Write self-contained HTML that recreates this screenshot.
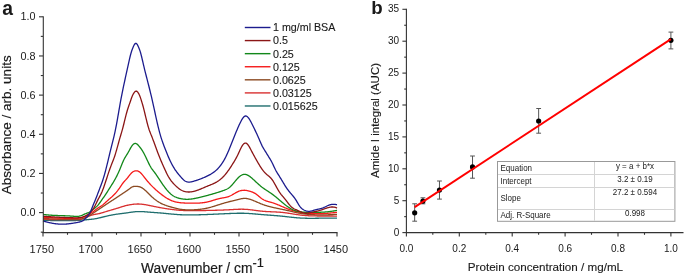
<!DOCTYPE html>
<html><head><meta charset="utf-8"><style>
html,body{margin:0;padding:0;background:#fff;}
svg{display:block;}
text{font-family:"Liberation Sans",sans-serif;fill:#1a1a1a;}
.hv{stroke:#1a1a1a;stroke-width:0.18px;}
.hv2{stroke:#1a1a1a;stroke-width:0.12px;}
</style></head><body>
<svg width="685" height="274" viewBox="0 0 685 274" style="will-change:transform">
<rect width="685" height="274" fill="#fff"/>
<!-- panel a -->
<text x="2.2" y="14.6" font-size="19.3" font-weight="bold" fill="#000">a</text>
<g fill="none" stroke-width="1.3" stroke-linejoin="round">
<path d="M43.0,220.50 L43.5,220.49 L44.0,220.49 L44.5,220.48 L45.0,220.48 L45.5,220.47 L46.0,220.47 L46.5,220.47 L47.0,220.47 L47.5,220.47 L48.0,220.47 L48.5,220.47 L49.0,220.47 L49.5,220.47 L50.0,220.47 L50.5,220.48 L51.0,220.48 L51.5,220.49 L52.0,220.49 L52.5,220.50 L53.0,220.50 L53.5,220.51 L54.0,220.52 L54.5,220.52 L55.0,220.53 L55.5,220.54 L56.0,220.54 L56.5,220.55 L57.0,220.56 L57.5,220.56 L58.0,220.57 L58.5,220.58 L59.0,220.59 L59.5,220.59 L60.0,220.60 L60.5,220.61 L61.0,220.61 L61.5,220.62 L62.0,220.62 L62.5,220.63 L63.0,220.63 L63.5,220.64 L64.0,220.64 L64.5,220.65 L65.0,220.65 L65.5,220.65 L66.0,220.65 L66.5,220.65 L67.0,220.65 L67.5,220.65 L68.0,220.65 L68.5,220.65 L69.0,220.64 L69.5,220.64 L70.0,220.64 L70.5,220.63 L71.0,220.62 L71.5,220.61 L72.0,220.60 L72.5,220.59 L73.0,220.58 L73.5,220.57 L74.0,220.55 L74.5,220.54 L75.0,220.52 L75.5,220.50 L76.0,220.48 L76.5,220.46 L77.0,220.44 L77.5,220.41 L78.0,220.39 L78.5,220.36 L79.0,220.33 L79.5,220.30 L80.0,220.27 L80.5,220.23 L81.0,220.20 L81.5,220.16 L82.0,220.12 L82.5,220.08 L83.0,220.04 L83.5,220.00 L84.0,219.96 L84.5,219.91 L85.0,219.87 L85.5,219.82 L86.0,219.78 L86.5,219.74 L87.0,219.69 L87.5,219.64 L88.0,219.60 L88.5,219.56 L89.0,219.51 L89.5,219.46 L90.0,219.42 L90.5,219.37 L91.0,219.32 L91.5,219.27 L92.0,219.21 L92.5,219.15 L93.0,219.09 L93.5,219.03 L94.0,218.96 L94.5,218.88 L95.0,218.80 L95.5,218.71 L96.0,218.62 L96.5,218.53 L97.0,218.43 L97.5,218.32 L98.0,218.21 L98.5,218.10 L99.0,217.98 L99.5,217.87 L100.0,217.75 L100.5,217.62 L101.0,217.50 L101.5,217.37 L102.0,217.25 L102.5,217.12 L103.0,217.00 L103.5,216.87 L104.0,216.75 L104.5,216.62 L105.0,216.50 L105.5,216.38 L106.0,216.26 L106.5,216.14 L107.0,216.03 L107.5,215.92 L108.0,215.81 L108.5,215.70 L109.0,215.59 L109.5,215.48 L110.0,215.38 L110.5,215.28 L111.0,215.18 L111.5,215.08 L112.0,214.99 L112.5,214.90 L113.0,214.81 L113.5,214.72 L114.0,214.63 L114.5,214.55 L115.0,214.46 L115.5,214.38 L116.0,214.31 L116.5,214.23 L117.0,214.16 L117.5,214.09 L118.0,214.02 L118.5,213.95 L119.0,213.88 L119.5,213.82 L120.0,213.76 L120.5,213.70 L121.0,213.63 L121.5,213.57 L122.0,213.51 L122.5,213.45 L123.0,213.39 L123.5,213.33 L124.0,213.27 L124.5,213.20 L125.0,213.14 L125.5,213.07 L126.0,213.00 L126.5,212.93 L127.0,212.86 L127.5,212.78 L128.0,212.71 L128.5,212.63 L129.0,212.55 L129.5,212.48 L130.0,212.40 L130.5,212.33 L131.0,212.25 L131.5,212.18 L132.0,212.11 L132.5,212.04 L133.0,211.98 L133.5,211.91 L134.0,211.86 L134.5,211.80 L135.0,211.75 L135.5,211.71 L136.0,211.66 L136.5,211.63 L137.0,211.60 L137.5,211.58 L138.0,211.56 L138.5,211.55 L139.0,211.54 L139.5,211.54 L140.0,211.54 L140.5,211.55 L141.0,211.56 L141.5,211.58 L142.0,211.60 L142.5,211.62 L143.0,211.65 L143.5,211.68 L144.0,211.71 L144.5,211.75 L145.0,211.78 L145.5,211.82 L146.0,211.86 L146.5,211.90 L147.0,211.94 L147.5,211.99 L148.0,212.03 L148.5,212.07 L149.0,212.12 L149.5,212.16 L150.0,212.20 L150.5,212.24 L151.0,212.28 L151.5,212.32 L152.0,212.36 L152.5,212.40 L153.0,212.43 L153.5,212.47 L154.0,212.51 L154.5,212.54 L155.0,212.58 L155.5,212.61 L156.0,212.65 L156.5,212.68 L157.0,212.72 L157.5,212.76 L158.0,212.79 L158.5,212.83 L159.0,212.87 L159.5,212.91 L160.0,212.94 L160.5,212.98 L161.0,213.02 L161.5,213.07 L162.0,213.11 L162.5,213.15 L163.0,213.20 L163.5,213.24 L164.0,213.29 L164.5,213.34 L165.0,213.38 L165.5,213.43 L166.0,213.48 L166.5,213.53 L167.0,213.58 L167.5,213.63 L168.0,213.68 L168.5,213.73 L169.0,213.78 L169.5,213.83 L170.0,213.88 L170.5,213.93 L171.0,213.98 L171.5,214.03 L172.0,214.08 L172.5,214.13 L173.0,214.17 L173.5,214.22 L174.0,214.26 L174.5,214.31 L175.0,214.35 L175.5,214.39 L176.0,214.43 L176.5,214.47 L177.0,214.51 L177.5,214.55 L178.0,214.58 L178.5,214.61 L179.0,214.64 L179.5,214.67 L180.0,214.70 L180.5,214.73 L181.0,214.75 L181.5,214.77 L182.0,214.79 L182.5,214.81 L183.0,214.82 L183.5,214.84 L184.0,214.85 L184.5,214.86 L185.0,214.87 L185.5,214.88 L186.0,214.88 L186.5,214.89 L187.0,214.89 L187.5,214.90 L188.0,214.90 L188.5,214.90 L189.0,214.90 L189.5,214.90 L190.0,214.90 L190.5,214.90 L191.0,214.90 L191.5,214.89 L192.0,214.89 L192.5,214.88 L193.0,214.88 L193.5,214.87 L194.0,214.86 L194.5,214.86 L195.0,214.85 L195.5,214.84 L196.0,214.83 L196.5,214.82 L197.0,214.81 L197.5,214.80 L198.0,214.79 L198.5,214.78 L199.0,214.77 L199.5,214.75 L200.0,214.74 L200.5,214.73 L201.0,214.71 L201.5,214.70 L202.0,214.68 L202.5,214.67 L203.0,214.65 L203.5,214.63 L204.0,214.62 L204.5,214.60 L205.0,214.58 L205.5,214.56 L206.0,214.55 L206.5,214.53 L207.0,214.51 L207.5,214.49 L208.0,214.47 L208.5,214.45 L209.0,214.43 L209.5,214.41 L210.0,214.39 L210.5,214.37 L211.0,214.35 L211.5,214.32 L212.0,214.30 L212.5,214.28 L213.0,214.26 L213.5,214.24 L214.0,214.22 L214.5,214.19 L215.0,214.17 L215.5,214.15 L216.0,214.13 L216.5,214.10 L217.0,214.08 L217.5,214.06 L218.0,214.03 L218.5,214.01 L219.0,213.99 L219.5,213.97 L220.0,213.94 L220.5,213.92 L221.0,213.90 L221.5,213.87 L222.0,213.85 L222.5,213.83 L223.0,213.81 L223.5,213.78 L224.0,213.76 L224.5,213.74 L225.0,213.71 L225.5,213.69 L226.0,213.67 L226.5,213.65 L227.0,213.63 L227.5,213.61 L228.0,213.58 L228.5,213.56 L229.0,213.54 L229.5,213.52 L230.0,213.50 L230.5,213.48 L231.0,213.46 L231.5,213.44 L232.0,213.42 L232.5,213.40 L233.0,213.38 L233.5,213.37 L234.0,213.35 L234.5,213.33 L235.0,213.32 L235.5,213.30 L236.0,213.29 L236.5,213.28 L237.0,213.27 L237.5,213.26 L238.0,213.25 L238.5,213.24 L239.0,213.24 L239.5,213.23 L240.0,213.23 L240.5,213.23 L241.0,213.23 L241.5,213.23 L242.0,213.24 L242.5,213.24 L243.0,213.25 L243.5,213.26 L244.0,213.27 L244.5,213.28 L245.0,213.30 L245.5,213.32 L246.0,213.34 L246.5,213.36 L247.0,213.39 L247.5,213.41 L248.0,213.44 L248.5,213.47 L249.0,213.50 L249.5,213.54 L250.0,213.57 L250.5,213.61 L251.0,213.64 L251.5,213.68 L252.0,213.72 L252.5,213.76 L253.0,213.80 L253.5,213.85 L254.0,213.89 L254.5,213.93 L255.0,213.98 L255.5,214.02 L256.0,214.07 L256.5,214.11 L257.0,214.16 L257.5,214.20 L258.0,214.25 L258.5,214.29 L259.0,214.34 L259.5,214.38 L260.0,214.43 L260.5,214.47 L261.0,214.51 L261.5,214.56 L262.0,214.60 L262.5,214.64 L263.0,214.68 L263.5,214.72 L264.0,214.76 L264.5,214.80 L265.0,214.84 L265.5,214.88 L266.0,214.91 L266.5,214.95 L267.0,214.99 L267.5,215.02 L268.0,215.06 L268.5,215.09 L269.0,215.13 L269.5,215.17 L270.0,215.20 L270.5,215.24 L271.0,215.27 L271.5,215.31 L272.0,215.35 L272.5,215.38 L273.0,215.42 L273.5,215.46 L274.0,215.49 L274.5,215.53 L275.0,215.57 L275.5,215.61 L276.0,215.65 L276.5,215.69 L277.0,215.73 L277.5,215.77 L278.0,215.82 L278.5,215.86 L279.0,215.91 L279.5,215.95 L280.0,216.00 L280.5,216.05 L281.0,216.10 L281.5,216.15 L282.0,216.20 L282.5,216.25 L283.0,216.30 L283.5,216.36 L284.0,216.41 L284.5,216.47 L285.0,216.52 L285.5,216.58 L286.0,216.63 L286.5,216.69 L287.0,216.75 L287.5,216.80 L288.0,216.86 L288.5,216.91 L289.0,216.97 L289.5,217.03 L290.0,217.08 L290.5,217.14 L291.0,217.19 L291.5,217.25 L292.0,217.30 L292.5,217.35 L293.0,217.40 L293.5,217.45 L294.0,217.50 L294.5,217.55 L295.0,217.60 L295.5,217.65 L296.0,217.69 L296.5,217.74 L297.0,217.78 L297.5,217.82 L298.0,217.86 L298.5,217.90 L299.0,217.93 L299.5,217.97 L300.0,218.00 L300.5,218.03 L301.0,218.06 L301.5,218.09 L302.0,218.11 L302.5,218.13 L303.0,218.15 L303.5,218.17 L304.0,218.19 L304.5,218.21 L305.0,218.22 L305.5,218.24 L306.0,218.25 L306.5,218.26 L307.0,218.27 L307.5,218.28 L308.0,218.28 L308.5,218.29 L309.0,218.29 L309.5,218.30 L310.0,218.30 L310.5,218.30 L311.0,218.30 L311.5,218.30 L312.0,218.30 L312.5,218.30 L313.0,218.29 L313.5,218.29 L314.0,218.29 L314.5,218.28 L315.0,218.28 L315.5,218.27 L316.0,218.26 L316.5,218.26 L317.0,218.25 L317.5,218.24 L318.0,218.23 L318.5,218.23 L319.0,218.22 L319.5,218.21 L320.0,218.20 L320.5,218.19 L321.0,218.18 L321.5,218.17 L322.0,218.17 L322.5,218.16 L323.0,218.15 L323.5,218.14 L324.0,218.14 L324.5,218.13 L325.0,218.12 L325.5,218.12 L326.0,218.11 L326.5,218.11 L327.0,218.10 L327.5,218.10 L328.0,218.09 L328.5,218.09 L329.0,218.09 L329.5,218.09 L330.0,218.09 L330.5,218.09 L331.0,218.09 L331.5,218.10 L332.0,218.10 L332.5,218.11 L333.0,218.11 L333.5,218.12 L334.0,218.13 L334.5,218.14 L335.0,218.15 L335.5,218.17 L336.0,218.18 L336.5,218.20 L337.0,218.21" stroke="#1f6e6e"/>
<path d="M43.0,219.20 L43.5,219.24 L44.0,219.27 L44.5,219.31 L45.0,219.34 L45.5,219.37 L46.0,219.40 L46.5,219.42 L47.0,219.45 L47.5,219.47 L48.0,219.49 L48.5,219.51 L49.0,219.52 L49.5,219.54 L50.0,219.55 L50.5,219.57 L51.0,219.58 L51.5,219.59 L52.0,219.59 L52.5,219.60 L53.0,219.61 L53.5,219.61 L54.0,219.62 L54.5,219.62 L55.0,219.62 L55.5,219.62 L56.0,219.62 L56.5,219.62 L57.0,219.62 L57.5,219.62 L58.0,219.62 L58.5,219.61 L59.0,219.61 L59.5,219.60 L60.0,219.60 L60.5,219.60 L61.0,219.59 L61.5,219.59 L62.0,219.58 L62.5,219.58 L63.0,219.57 L63.5,219.56 L64.0,219.56 L64.5,219.55 L65.0,219.55 L65.5,219.55 L66.0,219.54 L66.5,219.54 L67.0,219.54 L67.5,219.53 L68.0,219.53 L68.5,219.53 L69.0,219.53 L69.5,219.53 L70.0,219.53 L70.5,219.53 L71.0,219.54 L71.5,219.54 L72.0,219.54 L72.5,219.55 L73.0,219.56 L73.5,219.57 L74.0,219.58 L74.5,219.59 L75.0,219.60 L75.5,219.61 L76.0,219.63 L76.5,219.64 L77.0,219.64 L77.5,219.64 L78.0,219.64 L78.5,219.62 L79.0,219.59 L79.5,219.54 L80.0,219.48 L80.5,219.40 L81.0,219.30 L81.5,219.18 L82.0,219.04 L82.5,218.88 L83.0,218.70 L83.5,218.52 L84.0,218.32 L84.5,218.11 L85.0,217.89 L85.5,217.67 L86.0,217.45 L86.5,217.22 L87.0,217.00 L87.5,216.78 L88.0,216.57 L88.5,216.36 L89.0,216.15 L89.5,215.95 L90.0,215.76 L90.5,215.58 L91.0,215.40 L91.5,215.24 L92.0,215.08 L92.5,214.94 L93.0,214.80 L93.5,214.68 L94.0,214.56 L94.5,214.46 L95.0,214.36 L95.5,214.26 L96.0,214.17 L96.5,214.09 L97.0,214.00 L97.5,213.91 L98.0,213.81 L98.5,213.72 L99.0,213.61 L99.5,213.50 L100.0,213.38 L100.5,213.25 L101.0,213.11 L101.5,212.97 L102.0,212.82 L102.5,212.67 L103.0,212.52 L103.5,212.36 L104.0,212.21 L104.5,212.05 L105.0,211.90 L105.5,211.75 L106.0,211.60 L106.5,211.44 L107.0,211.29 L107.5,211.14 L108.0,210.99 L108.5,210.84 L109.0,210.70 L109.5,210.55 L110.0,210.40 L110.5,210.25 L111.0,210.11 L111.5,209.96 L112.0,209.82 L112.5,209.67 L113.0,209.52 L113.5,209.38 L114.0,209.23 L114.5,209.08 L115.0,208.93 L115.5,208.78 L116.0,208.63 L116.5,208.48 L117.0,208.32 L117.5,208.17 L118.0,208.01 L118.5,207.85 L119.0,207.69 L119.5,207.53 L120.0,207.37 L120.5,207.21 L121.0,207.05 L121.5,206.89 L122.0,206.74 L122.5,206.58 L123.0,206.43 L123.5,206.28 L124.0,206.14 L124.5,206.00 L125.0,205.86 L125.5,205.73 L126.0,205.60 L126.5,205.48 L127.0,205.36 L127.5,205.25 L128.0,205.14 L128.5,205.04 L129.0,204.94 L129.5,204.85 L130.0,204.76 L130.5,204.68 L131.0,204.60 L131.5,204.52 L132.0,204.45 L132.5,204.38 L133.0,204.32 L133.5,204.26 L134.0,204.21 L134.5,204.16 L135.0,204.12 L135.5,204.08 L136.0,204.05 L136.5,204.03 L137.0,204.01 L137.5,204.00 L138.0,204.00 L138.5,204.00 L139.0,204.01 L139.5,204.03 L140.0,204.06 L140.5,204.09 L141.0,204.13 L141.5,204.18 L142.0,204.23 L142.5,204.29 L143.0,204.35 L143.5,204.42 L144.0,204.49 L144.5,204.57 L145.0,204.65 L145.5,204.73 L146.0,204.82 L146.5,204.91 L147.0,205.00 L147.5,205.10 L148.0,205.20 L148.5,205.30 L149.0,205.40 L149.5,205.50 L150.0,205.60 L150.5,205.70 L151.0,205.80 L151.5,205.91 L152.0,206.01 L152.5,206.11 L153.0,206.22 L153.5,206.32 L154.0,206.42 L154.5,206.52 L155.0,206.63 L155.5,206.73 L156.0,206.83 L156.5,206.93 L157.0,207.03 L157.5,207.12 L158.0,207.22 L158.5,207.32 L159.0,207.41 L159.5,207.51 L160.0,207.60 L160.5,207.69 L161.0,207.78 L161.5,207.87 L162.0,207.96 L162.5,208.04 L163.0,208.13 L163.5,208.21 L164.0,208.29 L164.5,208.38 L165.0,208.46 L165.5,208.54 L166.0,208.61 L166.5,208.69 L167.0,208.77 L167.5,208.84 L168.0,208.91 L168.5,208.99 L169.0,209.06 L169.5,209.13 L170.0,209.20 L170.5,209.27 L171.0,209.34 L171.5,209.40 L172.0,209.47 L172.5,209.54 L173.0,209.60 L173.5,209.66 L174.0,209.72 L174.5,209.78 L175.0,209.84 L175.5,209.89 L176.0,209.95 L176.5,210.00 L177.0,210.05 L177.5,210.10 L178.0,210.14 L178.5,210.19 L179.0,210.23 L179.5,210.26 L180.0,210.30 L180.5,210.33 L181.0,210.36 L181.5,210.39 L182.0,210.42 L182.5,210.44 L183.0,210.46 L183.5,210.48 L184.0,210.50 L184.5,210.51 L185.0,210.53 L185.5,210.54 L186.0,210.55 L186.5,210.56 L187.0,210.57 L187.5,210.58 L188.0,210.58 L188.5,210.59 L189.0,210.59 L189.5,210.60 L190.0,210.60 L190.5,210.60 L191.0,210.60 L191.5,210.61 L192.0,210.61 L192.5,210.61 L193.0,210.61 L193.5,210.61 L194.0,210.61 L194.5,210.61 L195.0,210.60 L195.5,210.60 L196.0,210.60 L196.5,210.60 L197.0,210.59 L197.5,210.59 L198.0,210.59 L198.5,210.58 L199.0,210.58 L199.5,210.57 L200.0,210.57 L200.5,210.56 L201.0,210.56 L201.5,210.55 L202.0,210.54 L202.5,210.54 L203.0,210.53 L203.5,210.52 L204.0,210.51 L204.5,210.51 L205.0,210.50 L205.5,210.49 L206.0,210.48 L206.5,210.47 L207.0,210.46 L207.5,210.45 L208.0,210.44 L208.5,210.43 L209.0,210.42 L209.5,210.41 L210.0,210.40 L210.5,210.39 L211.0,210.38 L211.5,210.37 L212.0,210.36 L212.5,210.34 L213.0,210.33 L213.5,210.32 L214.0,210.31 L214.5,210.29 L215.0,210.28 L215.5,210.27 L216.0,210.25 L216.5,210.24 L217.0,210.23 L217.5,210.21 L218.0,210.20 L218.5,210.18 L219.0,210.17 L219.5,210.15 L220.0,210.13 L220.5,210.12 L221.0,210.10 L221.5,210.08 L222.0,210.06 L222.5,210.04 L223.0,210.03 L223.5,210.01 L224.0,209.99 L224.5,209.96 L225.0,209.94 L225.5,209.92 L226.0,209.90 L226.5,209.88 L227.0,209.85 L227.5,209.83 L228.0,209.80 L228.5,209.78 L229.0,209.75 L229.5,209.73 L230.0,209.70 L230.5,209.67 L231.0,209.64 L231.5,209.62 L232.0,209.59 L232.5,209.56 L233.0,209.53 L233.5,209.50 L234.0,209.47 L234.5,209.45 L235.0,209.42 L235.5,209.39 L236.0,209.37 L236.5,209.35 L237.0,209.32 L237.5,209.30 L238.0,209.29 L238.5,209.27 L239.0,209.26 L239.5,209.24 L240.0,209.23 L240.5,209.23 L241.0,209.22 L241.5,209.22 L242.0,209.22 L242.5,209.23 L243.0,209.23 L243.5,209.24 L244.0,209.26 L244.5,209.28 L245.0,209.30 L245.5,209.33 L246.0,209.36 L246.5,209.39 L247.0,209.43 L247.5,209.47 L248.0,209.51 L248.5,209.56 L249.0,209.61 L249.5,209.66 L250.0,209.72 L250.5,209.78 L251.0,209.83 L251.5,209.89 L252.0,209.96 L252.5,210.02 L253.0,210.08 L253.5,210.15 L254.0,210.22 L254.5,210.28 L255.0,210.35 L255.5,210.42 L256.0,210.48 L256.5,210.55 L257.0,210.61 L257.5,210.68 L258.0,210.74 L258.5,210.81 L259.0,210.87 L259.5,210.93 L260.0,210.99 L260.5,211.04 L261.0,211.10 L261.5,211.15 L262.0,211.20 L262.5,211.25 L263.0,211.29 L263.5,211.33 L264.0,211.37 L264.5,211.41 L265.0,211.45 L265.5,211.48 L266.0,211.51 L266.5,211.54 L267.0,211.57 L267.5,211.60 L268.0,211.62 L268.5,211.65 L269.0,211.67 L269.5,211.69 L270.0,211.71 L270.5,211.74 L271.0,211.76 L271.5,211.78 L272.0,211.80 L272.5,211.82 L273.0,211.84 L273.5,211.86 L274.0,211.88 L274.5,211.91 L275.0,211.93 L275.5,211.95 L276.0,211.98 L276.5,212.00 L277.0,212.03 L277.5,212.06 L278.0,212.09 L278.5,212.12 L279.0,212.15 L279.5,212.19 L280.0,212.23 L280.5,212.27 L281.0,212.31 L281.5,212.35 L282.0,212.40 L282.5,212.45 L283.0,212.50 L283.5,212.56 L284.0,212.61 L284.5,212.67 L285.0,212.74 L285.5,212.80 L286.0,212.87 L286.5,212.94 L287.0,213.01 L287.5,213.09 L288.0,213.16 L288.5,213.24 L289.0,213.32 L289.5,213.39 L290.0,213.47 L290.5,213.55 L291.0,213.63 L291.5,213.72 L292.0,213.80 L292.5,213.88 L293.0,213.96 L293.5,214.04 L294.0,214.12 L294.5,214.20 L295.0,214.28 L295.5,214.36 L296.0,214.44 L296.5,214.51 L297.0,214.59 L297.5,214.66 L298.0,214.73 L298.5,214.80 L299.0,214.87 L299.5,214.94 L300.0,215.00 L300.5,215.06 L301.0,215.12 L301.5,215.17 L302.0,215.23 L302.5,215.28 L303.0,215.33 L303.5,215.37 L304.0,215.42 L304.5,215.46 L305.0,215.50 L305.5,215.54 L306.0,215.58 L306.5,215.61 L307.0,215.64 L307.5,215.67 L308.0,215.70 L308.5,215.73 L309.0,215.75 L309.5,215.78 L310.0,215.80 L310.5,215.82 L311.0,215.84 L311.5,215.86 L312.0,215.88 L312.5,215.89 L313.0,215.91 L313.5,215.92 L314.0,215.93 L314.5,215.94 L315.0,215.95 L315.5,215.96 L316.0,215.97 L316.5,215.97 L317.0,215.98 L317.5,215.98 L318.0,215.99 L318.5,215.99 L319.0,216.00 L319.5,216.00 L320.0,216.00 L320.5,216.00 L321.0,216.00 L321.5,216.00 L322.0,216.00 L322.5,216.00 L323.0,216.00 L323.5,216.00 L324.0,216.00 L324.5,216.00 L325.0,216.00 L325.5,216.00 L326.0,216.00 L326.5,216.00 L327.0,216.00 L327.5,216.00 L328.0,216.00 L328.5,216.00 L329.0,216.00 L329.5,216.00 L330.0,216.00 L330.5,216.01 L331.0,216.01 L331.5,216.01 L332.0,216.02 L332.5,216.02 L333.0,216.03 L333.5,216.04 L334.0,216.04 L334.5,216.05 L335.0,216.06 L335.5,216.07 L336.0,216.08 L336.5,216.10 L337.0,216.11" stroke="#d83030"/>
<path d="M43.0,218.50 L43.5,218.53 L44.0,218.56 L44.5,218.58 L45.0,218.61 L45.5,218.63 L46.0,218.65 L46.5,218.68 L47.0,218.70 L47.5,218.72 L48.0,218.74 L48.5,218.75 L49.0,218.77 L49.5,218.79 L50.0,218.81 L50.5,218.82 L51.0,218.84 L51.5,218.85 L52.0,218.86 L52.5,218.88 L53.0,218.89 L53.5,218.90 L54.0,218.91 L54.5,218.92 L55.0,218.93 L55.5,218.94 L56.0,218.95 L56.5,218.96 L57.0,218.96 L57.5,218.97 L58.0,218.98 L58.5,218.98 L59.0,218.99 L59.5,218.99 L60.0,219.00 L60.5,219.00 L61.0,219.01 L61.5,219.01 L62.0,219.02 L62.5,219.02 L63.0,219.02 L63.5,219.03 L64.0,219.03 L64.5,219.03 L65.0,219.04 L65.5,219.04 L66.0,219.04 L66.5,219.05 L67.0,219.05 L67.5,219.05 L68.0,219.05 L68.5,219.06 L69.0,219.06 L69.5,219.06 L70.0,219.06 L70.5,219.07 L71.0,219.07 L71.5,219.07 L72.0,219.08 L72.5,219.08 L73.0,219.08 L73.5,219.09 L74.0,219.09 L74.5,219.10 L75.0,219.10 L75.5,219.10 L76.0,219.11 L76.5,219.11 L77.0,219.11 L77.5,219.11 L78.0,219.10 L78.5,219.08 L79.0,219.06 L79.5,219.03 L80.0,218.99 L80.5,218.94 L81.0,218.87 L81.5,218.80 L82.0,218.71 L82.5,218.61 L83.0,218.49 L83.5,218.35 L84.0,218.20 L84.5,218.03 L85.0,217.84 L85.5,217.63 L86.0,217.41 L86.5,217.17 L87.0,216.92 L87.5,216.66 L88.0,216.39 L88.5,216.10 L89.0,215.81 L89.5,215.51 L90.0,215.20 L90.5,214.89 L91.0,214.57 L91.5,214.24 L92.0,213.92 L92.5,213.58 L93.0,213.25 L93.5,212.91 L94.0,212.57 L94.5,212.23 L95.0,211.89 L95.5,211.55 L96.0,211.21 L96.5,210.87 L97.0,210.53 L97.5,210.20 L98.0,209.86 L98.5,209.53 L99.0,209.20 L99.5,208.87 L100.0,208.53 L100.5,208.21 L101.0,207.88 L101.5,207.55 L102.0,207.22 L102.5,206.89 L103.0,206.56 L103.5,206.23 L104.0,205.90 L104.5,205.57 L105.0,205.24 L105.5,204.90 L106.0,204.57 L106.5,204.23 L107.0,203.90 L107.5,203.57 L108.0,203.23 L108.5,202.90 L109.0,202.56 L109.5,202.23 L110.0,201.90 L110.5,201.57 L111.0,201.24 L111.5,200.91 L112.0,200.58 L112.5,200.25 L113.0,199.92 L113.5,199.59 L114.0,199.26 L114.5,198.93 L115.0,198.60 L115.5,198.27 L116.0,197.93 L116.5,197.60 L117.0,197.26 L117.5,196.93 L118.0,196.59 L118.5,196.26 L119.0,195.93 L119.5,195.59 L120.0,195.26 L120.5,194.93 L121.0,194.60 L121.5,194.27 L122.0,193.95 L122.5,193.62 L123.0,193.29 L123.5,192.97 L124.0,192.64 L124.5,192.31 L125.0,191.98 L125.5,191.64 L126.0,191.30 L126.5,190.96 L127.0,190.61 L127.5,190.25 L128.0,189.90 L128.5,189.53 L129.0,189.16 L129.5,188.78 L130.0,188.40 L130.5,188.01 L131.0,187.64 L131.5,187.29 L132.0,187.00 L132.5,186.77 L133.0,186.61 L133.5,186.49 L134.0,186.42 L134.5,186.39 L135.0,186.38 L135.5,186.39 L136.0,186.40 L136.5,186.41 L137.0,186.43 L137.5,186.46 L138.0,186.50 L138.5,186.56 L139.0,186.64 L139.5,186.75 L140.0,186.90 L140.5,187.08 L141.0,187.31 L141.5,187.56 L142.0,187.85 L142.5,188.17 L143.0,188.52 L143.5,188.89 L144.0,189.29 L144.5,189.70 L145.0,190.14 L145.5,190.59 L146.0,191.06 L146.5,191.54 L147.0,192.02 L147.5,192.52 L148.0,193.02 L148.5,193.52 L149.0,194.03 L149.5,194.53 L150.0,195.03 L150.5,195.52 L151.0,196.00 L151.5,196.47 L152.0,196.93 L152.5,197.38 L153.0,197.82 L153.5,198.25 L154.0,198.67 L154.5,199.07 L155.0,199.47 L155.5,199.85 L156.0,200.22 L156.5,200.59 L157.0,200.94 L157.5,201.27 L158.0,201.60 L158.5,201.92 L159.0,202.22 L159.5,202.52 L160.0,202.80 L160.5,203.07 L161.0,203.33 L161.5,203.58 L162.0,203.82 L162.5,204.05 L163.0,204.27 L163.5,204.49 L164.0,204.69 L164.5,204.89 L165.0,205.08 L165.5,205.26 L166.0,205.44 L166.5,205.62 L167.0,205.78 L167.5,205.95 L168.0,206.10 L168.5,206.26 L169.0,206.41 L169.5,206.56 L170.0,206.71 L170.5,206.86 L171.0,207.00 L171.5,207.14 L172.0,207.29 L172.5,207.43 L173.0,207.57 L173.5,207.71 L174.0,207.84 L174.5,207.98 L175.0,208.11 L175.5,208.23 L176.0,208.36 L176.5,208.48 L177.0,208.60 L177.5,208.71 L178.0,208.82 L178.5,208.92 L179.0,209.02 L179.5,209.11 L180.0,209.20 L180.5,209.28 L181.0,209.36 L181.5,209.43 L182.0,209.49 L182.5,209.55 L183.0,209.60 L183.5,209.65 L184.0,209.70 L184.5,209.74 L185.0,209.77 L185.5,209.80 L186.0,209.83 L186.5,209.85 L187.0,209.87 L187.5,209.88 L188.0,209.90 L188.5,209.90 L189.0,209.91 L189.5,209.91 L190.0,209.91 L190.5,209.90 L191.0,209.90 L191.5,209.89 L192.0,209.87 L192.5,209.86 L193.0,209.84 L193.5,209.82 L194.0,209.80 L194.5,209.77 L195.0,209.74 L195.5,209.71 L196.0,209.68 L196.5,209.64 L197.0,209.60 L197.5,209.56 L198.0,209.51 L198.5,209.46 L199.0,209.41 L199.5,209.36 L200.0,209.30 L200.5,209.24 L201.0,209.18 L201.5,209.11 L202.0,209.04 L202.5,208.96 L203.0,208.89 L203.5,208.81 L204.0,208.72 L204.5,208.63 L205.0,208.54 L205.5,208.45 L206.0,208.35 L206.5,208.25 L207.0,208.14 L207.5,208.03 L208.0,207.92 L208.5,207.80 L209.0,207.68 L209.5,207.55 L210.0,207.42 L210.5,207.28 L211.0,207.15 L211.5,207.00 L212.0,206.86 L212.5,206.71 L213.0,206.56 L213.5,206.41 L214.0,206.26 L214.5,206.10 L215.0,205.94 L215.5,205.78 L216.0,205.62 L216.5,205.46 L217.0,205.30 L217.5,205.14 L218.0,204.98 L218.5,204.82 L219.0,204.66 L219.5,204.51 L220.0,204.35 L220.5,204.19 L221.0,204.04 L221.5,203.88 L222.0,203.73 L222.5,203.58 L223.0,203.43 L223.5,203.28 L224.0,203.14 L224.5,202.99 L225.0,202.85 L225.5,202.70 L226.0,202.56 L226.5,202.42 L227.0,202.29 L227.5,202.15 L228.0,202.02 L228.5,201.89 L229.0,201.75 L229.5,201.63 L230.0,201.50 L230.5,201.38 L231.0,201.25 L231.5,201.13 L232.0,201.01 L232.5,200.89 L233.0,200.77 L233.5,200.65 L234.0,200.53 L234.5,200.41 L235.0,200.29 L235.5,200.17 L236.0,200.05 L236.5,199.93 L237.0,199.80 L237.5,199.67 L238.0,199.54 L238.5,199.41 L239.0,199.29 L239.5,199.16 L240.0,199.05 L240.5,198.93 L241.0,198.83 L241.5,198.73 L242.0,198.64 L242.5,198.56 L243.0,198.50 L243.5,198.45 L244.0,198.42 L244.5,198.40 L245.0,198.40 L245.5,198.42 L246.0,198.46 L246.5,198.51 L247.0,198.58 L247.5,198.67 L248.0,198.77 L248.5,198.89 L249.0,199.02 L249.5,199.16 L250.0,199.31 L250.5,199.47 L251.0,199.64 L251.5,199.82 L252.0,200.00 L252.5,200.19 L253.0,200.39 L253.5,200.59 L254.0,200.79 L254.5,201.00 L255.0,201.22 L255.5,201.43 L256.0,201.65 L256.5,201.87 L257.0,202.09 L257.5,202.31 L258.0,202.53 L258.5,202.74 L259.0,202.96 L259.5,203.18 L260.0,203.39 L260.5,203.60 L261.0,203.80 L261.5,204.00 L262.0,204.20 L262.5,204.39 L263.0,204.58 L263.5,204.76 L264.0,204.93 L264.5,205.10 L265.0,205.27 L265.5,205.43 L266.0,205.59 L266.5,205.74 L267.0,205.89 L267.5,206.03 L268.0,206.17 L268.5,206.31 L269.0,206.45 L269.5,206.58 L270.0,206.71 L270.5,206.84 L271.0,206.96 L271.5,207.08 L272.0,207.20 L272.5,207.32 L273.0,207.43 L273.5,207.55 L274.0,207.66 L274.5,207.77 L275.0,207.88 L275.5,207.99 L276.0,208.09 L276.5,208.20 L277.0,208.30 L277.5,208.41 L278.0,208.51 L278.5,208.62 L279.0,208.72 L279.5,208.82 L280.0,208.92 L280.5,209.02 L281.0,209.12 L281.5,209.23 L282.0,209.33 L282.5,209.43 L283.0,209.53 L283.5,209.64 L284.0,209.74 L284.5,209.85 L285.0,209.95 L285.5,210.06 L286.0,210.17 L286.5,210.28 L287.0,210.39 L287.5,210.50 L288.0,210.61 L288.5,210.73 L289.0,210.85 L289.5,210.96 L290.0,211.08 L290.5,211.20 L291.0,211.32 L291.5,211.44 L292.0,211.56 L292.5,211.68 L293.0,211.80 L293.5,211.92 L294.0,212.03 L294.5,212.15 L295.0,212.26 L295.5,212.38 L296.0,212.49 L296.5,212.60 L297.0,212.71 L297.5,212.81 L298.0,212.92 L298.5,213.02 L299.0,213.11 L299.5,213.21 L300.0,213.30 L300.5,213.39 L301.0,213.47 L301.5,213.55 L302.0,213.63 L302.5,213.70 L303.0,213.78 L303.5,213.84 L304.0,213.91 L304.5,213.97 L305.0,214.03 L305.5,214.09 L306.0,214.14 L306.5,214.20 L307.0,214.25 L307.5,214.29 L308.0,214.34 L308.5,214.38 L309.0,214.42 L309.5,214.46 L310.0,214.50 L310.5,214.54 L311.0,214.57 L311.5,214.60 L312.0,214.63 L312.5,214.66 L313.0,214.69 L313.5,214.71 L314.0,214.74 L314.5,214.76 L315.0,214.78 L315.5,214.80 L316.0,214.82 L316.5,214.83 L317.0,214.85 L317.5,214.86 L318.0,214.87 L318.5,214.88 L319.0,214.89 L319.5,214.89 L320.0,214.90 L320.5,214.90 L321.0,214.91 L321.5,214.91 L322.0,214.91 L322.5,214.90 L323.0,214.90 L323.5,214.89 L324.0,214.89 L324.5,214.88 L325.0,214.87 L325.5,214.86 L326.0,214.85 L326.5,214.83 L327.0,214.82 L327.5,214.80 L328.0,214.79 L328.5,214.77 L329.0,214.75 L329.5,214.73 L330.0,214.70 L330.5,214.68 L331.0,214.66 L331.5,214.63 L332.0,214.60 L332.5,214.58 L333.0,214.55 L333.5,214.51 L334.0,214.48 L334.5,214.45 L335.0,214.42 L335.5,214.38 L336.0,214.34 L336.5,214.31 L337.0,214.27" stroke="#8b4a22"/>
<path d="M43.0,217.60 L43.5,217.59 L44.0,217.59 L44.5,217.59 L45.0,217.59 L45.5,217.59 L46.0,217.59 L46.5,217.59 L47.0,217.60 L47.5,217.61 L48.0,217.62 L48.5,217.63 L49.0,217.64 L49.5,217.65 L50.0,217.67 L50.5,217.68 L51.0,217.70 L51.5,217.72 L52.0,217.73 L52.5,217.75 L53.0,217.77 L53.5,217.79 L54.0,217.82 L54.5,217.84 L55.0,217.86 L55.5,217.88 L56.0,217.91 L56.5,217.93 L57.0,217.96 L57.5,217.98 L58.0,218.00 L58.5,218.03 L59.0,218.05 L59.5,218.08 L60.0,218.10 L60.5,218.12 L61.0,218.15 L61.5,218.17 L62.0,218.19 L62.5,218.21 L63.0,218.24 L63.5,218.26 L64.0,218.28 L64.5,218.30 L65.0,218.32 L65.5,218.33 L66.0,218.35 L66.5,218.36 L67.0,218.38 L67.5,218.39 L68.0,218.40 L68.5,218.42 L69.0,218.42 L69.5,218.43 L70.0,218.44 L70.5,218.44 L71.0,218.45 L71.5,218.45 L72.0,218.45 L72.5,218.44 L73.0,218.44 L73.5,218.43 L74.0,218.42 L74.5,218.41 L75.0,218.40 L75.5,218.38 L76.0,218.37 L76.5,218.34 L77.0,218.31 L77.5,218.28 L78.0,218.24 L78.5,218.19 L79.0,218.12 L79.5,218.05 L80.0,217.97 L80.5,217.87 L81.0,217.76 L81.5,217.64 L82.0,217.50 L82.5,217.34 L83.0,217.17 L83.5,216.98 L84.0,216.78 L84.5,216.57 L85.0,216.34 L85.5,216.11 L86.0,215.86 L86.5,215.61 L87.0,215.34 L87.5,215.07 L88.0,214.80 L88.5,214.52 L89.0,214.24 L89.5,213.95 L90.0,213.65 L90.5,213.35 L91.0,213.04 L91.5,212.72 L92.0,212.40 L92.5,212.06 L93.0,211.72 L93.5,211.36 L94.0,211.00 L94.5,210.62 L95.0,210.24 L95.5,209.86 L96.0,209.47 L96.5,209.09 L97.0,208.71 L97.5,208.35 L98.0,208.00 L98.5,207.67 L99.0,207.35 L99.5,207.04 L100.0,206.74 L100.5,206.43 L101.0,206.11 L101.5,205.79 L102.0,205.44 L102.5,205.08 L103.0,204.69 L103.5,204.28 L104.0,203.86 L104.5,203.42 L105.0,202.97 L105.5,202.51 L106.0,202.05 L106.5,201.58 L107.0,201.12 L107.5,200.66 L108.0,200.20 L108.5,199.75 L109.0,199.31 L109.5,198.88 L110.0,198.44 L110.5,198.01 L111.0,197.57 L111.5,197.14 L112.0,196.69 L112.5,196.24 L113.0,195.77 L113.5,195.29 L114.0,194.80 L114.5,194.29 L115.0,193.76 L115.5,193.22 L116.0,192.65 L116.5,192.06 L117.0,191.45 L117.5,190.82 L118.0,190.16 L118.5,189.48 L119.0,188.77 L119.5,188.04 L120.0,187.30 L120.5,186.55 L121.0,185.81 L121.5,185.07 L122.0,184.35 L122.5,183.66 L123.0,183.00 L123.5,182.38 L124.0,181.79 L124.5,181.23 L125.0,180.68 L125.5,180.14 L126.0,179.60 L126.5,179.05 L127.0,178.48 L127.5,177.88 L128.0,177.25 L128.5,176.60 L129.0,175.94 L129.5,175.29 L130.0,174.66 L130.5,174.06 L131.0,173.50 L131.5,172.99 L132.0,172.54 L132.5,172.14 L133.0,171.80 L133.5,171.51 L134.0,171.26 L134.5,171.07 L135.0,170.93 L135.5,170.84 L136.0,170.80 L136.5,170.81 L137.0,170.87 L137.5,170.97 L138.0,171.13 L138.5,171.34 L139.0,171.60 L139.5,171.92 L140.0,172.30 L140.5,172.74 L141.0,173.22 L141.5,173.75 L142.0,174.32 L142.5,174.92 L143.0,175.54 L143.5,176.18 L144.0,176.83 L144.5,177.48 L145.0,178.13 L145.5,178.76 L146.0,179.39 L146.5,180.01 L147.0,180.61 L147.5,181.21 L148.0,181.79 L148.5,182.37 L149.0,182.93 L149.5,183.49 L150.0,184.03 L150.5,184.57 L151.0,185.10 L151.5,185.62 L152.0,186.13 L152.5,186.63 L153.0,187.12 L153.5,187.61 L154.0,188.09 L154.5,188.56 L155.0,189.02 L155.5,189.48 L156.0,189.93 L156.5,190.37 L157.0,190.80 L157.5,191.23 L158.0,191.66 L158.5,192.08 L159.0,192.49 L159.5,192.90 L160.0,193.30 L160.5,193.70 L161.0,194.09 L161.5,194.48 L162.0,194.86 L162.5,195.24 L163.0,195.61 L163.5,195.97 L164.0,196.33 L164.5,196.68 L165.0,197.02 L165.5,197.36 L166.0,197.68 L166.5,198.00 L167.0,198.31 L167.5,198.60 L168.0,198.89 L168.5,199.17 L169.0,199.44 L169.5,199.70 L170.0,199.94 L170.5,200.18 L171.0,200.40 L171.5,200.61 L172.0,200.81 L172.5,201.00 L173.0,201.17 L173.5,201.34 L174.0,201.49 L174.5,201.64 L175.0,201.77 L175.5,201.90 L176.0,202.02 L176.5,202.13 L177.0,202.23 L177.5,202.32 L178.0,202.41 L178.5,202.48 L179.0,202.56 L179.5,202.62 L180.0,202.68 L180.5,202.73 L181.0,202.78 L181.5,202.83 L182.0,202.87 L182.5,202.90 L183.0,202.93 L183.5,202.96 L184.0,202.98 L184.5,203.01 L185.0,203.03 L185.5,203.04 L186.0,203.06 L186.5,203.08 L187.0,203.09 L187.5,203.10 L188.0,203.12 L188.5,203.13 L189.0,203.14 L189.5,203.15 L190.0,203.16 L190.5,203.17 L191.0,203.18 L191.5,203.19 L192.0,203.20 L192.5,203.20 L193.0,203.20 L193.5,203.20 L194.0,203.20 L194.5,203.20 L195.0,203.20 L195.5,203.19 L196.0,203.18 L196.5,203.17 L197.0,203.15 L197.5,203.13 L198.0,203.11 L198.5,203.09 L199.0,203.06 L199.5,203.03 L200.0,202.99 L200.5,202.95 L201.0,202.91 L201.5,202.86 L202.0,202.81 L202.5,202.76 L203.0,202.70 L203.5,202.63 L204.0,202.56 L204.5,202.49 L205.0,202.41 L205.5,202.33 L206.0,202.24 L206.5,202.14 L207.0,202.04 L207.5,201.93 L208.0,201.82 L208.5,201.70 L209.0,201.58 L209.5,201.45 L210.0,201.31 L210.5,201.17 L211.0,201.02 L211.5,200.87 L212.0,200.72 L212.5,200.56 L213.0,200.40 L213.5,200.24 L214.0,200.08 L214.5,199.92 L215.0,199.77 L215.5,199.61 L216.0,199.46 L216.5,199.31 L217.0,199.17 L217.5,199.03 L218.0,198.89 L218.5,198.77 L219.0,198.65 L219.5,198.53 L220.0,198.43 L220.5,198.33 L221.0,198.24 L221.5,198.15 L222.0,198.06 L222.5,197.98 L223.0,197.89 L223.5,197.81 L224.0,197.72 L224.5,197.63 L225.0,197.53 L225.5,197.42 L226.0,197.31 L226.5,197.19 L227.0,197.06 L227.5,196.92 L228.0,196.77 L228.5,196.60 L229.0,196.42 L229.5,196.22 L230.0,196.00 L230.5,195.77 L231.0,195.51 L231.5,195.25 L232.0,194.97 L232.5,194.68 L233.0,194.39 L233.5,194.09 L234.0,193.79 L234.5,193.49 L235.0,193.19 L235.5,192.90 L236.0,192.61 L236.5,192.34 L237.0,192.07 L237.5,191.82 L238.0,191.59 L238.5,191.37 L239.0,191.18 L239.5,191.00 L240.0,190.85 L240.5,190.71 L241.0,190.59 L241.5,190.49 L242.0,190.41 L242.5,190.35 L243.0,190.30 L243.5,190.28 L244.0,190.27 L244.5,190.27 L245.0,190.30 L245.5,190.34 L246.0,190.40 L246.5,190.47 L247.0,190.56 L247.5,190.66 L248.0,190.77 L248.5,190.89 L249.0,191.02 L249.5,191.16 L250.0,191.30 L250.5,191.45 L251.0,191.61 L251.5,191.78 L252.0,191.96 L252.5,192.15 L253.0,192.35 L253.5,192.58 L254.0,192.82 L254.5,193.08 L255.0,193.36 L255.5,193.67 L256.0,194.00 L256.5,194.36 L257.0,194.74 L257.5,195.14 L258.0,195.55 L258.5,195.97 L259.0,196.40 L259.5,196.83 L260.0,197.25 L260.5,197.66 L261.0,198.06 L261.5,198.44 L262.0,198.80 L262.5,199.13 L263.0,199.44 L263.5,199.72 L264.0,199.99 L264.5,200.23 L265.0,200.45 L265.5,200.66 L266.0,200.85 L266.5,201.03 L267.0,201.19 L267.5,201.35 L268.0,201.50 L268.5,201.64 L269.0,201.78 L269.5,201.91 L270.0,202.05 L270.5,202.18 L271.0,202.32 L271.5,202.45 L272.0,202.60 L272.5,202.75 L273.0,202.91 L273.5,203.08 L274.0,203.25 L274.5,203.43 L275.0,203.61 L275.5,203.80 L276.0,203.99 L276.5,204.19 L277.0,204.39 L277.5,204.59 L278.0,204.80 L278.5,205.01 L279.0,205.22 L279.5,205.43 L280.0,205.65 L280.5,205.86 L281.0,206.08 L281.5,206.30 L282.0,206.51 L282.5,206.73 L283.0,206.95 L283.5,207.16 L284.0,207.37 L284.5,207.58 L285.0,207.79 L285.5,208.00 L286.0,208.20 L286.5,208.40 L287.0,208.59 L287.5,208.78 L288.0,208.97 L288.5,209.16 L289.0,209.34 L289.5,209.51 L290.0,209.68 L290.5,209.85 L291.0,210.02 L291.5,210.18 L292.0,210.34 L292.5,210.49 L293.0,210.64 L293.5,210.78 L294.0,210.92 L294.5,211.06 L295.0,211.19 L295.5,211.32 L296.0,211.45 L296.5,211.57 L297.0,211.69 L297.5,211.80 L298.0,211.91 L298.5,212.01 L299.0,212.11 L299.5,212.21 L300.0,212.30 L300.5,212.39 L301.0,212.47 L301.5,212.55 L302.0,212.63 L302.5,212.70 L303.0,212.77 L303.5,212.83 L304.0,212.89 L304.5,212.95 L305.0,213.00 L305.5,213.05 L306.0,213.10 L306.5,213.15 L307.0,213.19 L307.5,213.23 L308.0,213.27 L308.5,213.31 L309.0,213.34 L309.5,213.37 L310.0,213.40 L310.5,213.43 L311.0,213.45 L311.5,213.48 L312.0,213.50 L312.5,213.52 L313.0,213.54 L313.5,213.55 L314.0,213.57 L314.5,213.58 L315.0,213.59 L315.5,213.60 L316.0,213.61 L316.5,213.61 L317.0,213.62 L317.5,213.62 L318.0,213.62 L318.5,213.62 L319.0,213.61 L319.5,213.61 L320.0,213.60 L320.5,213.59 L321.0,213.58 L321.5,213.57 L322.0,213.55 L322.5,213.53 L323.0,213.52 L323.5,213.50 L324.0,213.47 L324.5,213.45 L325.0,213.42 L325.5,213.40 L326.0,213.37 L326.5,213.33 L327.0,213.30 L327.5,213.27 L328.0,213.23 L328.5,213.19 L329.0,213.15 L329.5,213.11 L330.0,213.06 L330.5,213.01 L331.0,212.97 L331.5,212.92 L332.0,212.86 L332.5,212.81 L333.0,212.76 L333.5,212.70 L334.0,212.64 L334.5,212.58 L335.0,212.51 L335.5,212.45 L336.0,212.38 L336.5,212.31 L337.0,212.24" stroke="#f51a1a"/>
<path d="M43.0,214.40 L43.5,214.47 L44.0,214.53 L44.5,214.60 L45.0,214.66 L45.5,214.71 L46.0,214.77 L46.5,214.82 L47.0,214.87 L47.5,214.92 L48.0,214.96 L48.5,215.01 L49.0,215.05 L49.5,215.09 L50.0,215.12 L50.5,215.16 L51.0,215.19 L51.5,215.23 L52.0,215.26 L52.5,215.29 L53.0,215.31 L53.5,215.34 L54.0,215.37 L54.5,215.39 L55.0,215.41 L55.5,215.43 L56.0,215.46 L56.5,215.48 L57.0,215.49 L57.5,215.51 L58.0,215.53 L58.5,215.55 L59.0,215.57 L59.5,215.58 L60.0,215.60 L60.5,215.62 L61.0,215.63 L61.5,215.65 L62.0,215.67 L62.5,215.68 L63.0,215.70 L63.5,215.72 L64.0,215.73 L64.5,215.75 L65.0,215.77 L65.5,215.79 L66.0,215.81 L66.5,215.83 L67.0,215.85 L67.5,215.87 L68.0,215.89 L68.5,215.92 L69.0,215.94 L69.5,215.97 L70.0,216.00 L70.5,216.03 L71.0,216.06 L71.5,216.09 L72.0,216.13 L72.5,216.16 L73.0,216.20 L73.5,216.24 L74.0,216.28 L74.5,216.32 L75.0,216.35 L75.5,216.38 L76.0,216.39 L76.5,216.40 L77.0,216.40 L77.5,216.38 L78.0,216.34 L78.5,216.29 L79.0,216.22 L79.5,216.12 L80.0,216.00 L80.5,215.85 L81.0,215.68 L81.5,215.50 L82.0,215.29 L82.5,215.08 L83.0,214.85 L83.5,214.63 L84.0,214.40 L84.5,214.18 L85.0,213.96 L85.5,213.74 L86.0,213.54 L86.5,213.34 L87.0,213.15 L87.5,212.96 L88.0,212.77 L88.5,212.55 L89.0,212.31 L89.5,212.02 L90.0,211.70 L90.5,211.34 L91.0,210.96 L91.5,210.56 L92.0,210.16 L92.5,209.76 L93.0,209.37 L93.5,208.99 L94.0,208.62 L94.5,208.25 L95.0,207.87 L95.5,207.48 L96.0,207.06 L96.5,206.63 L97.0,206.16 L97.5,205.65 L98.0,205.10 L98.5,204.50 L99.0,203.86 L99.5,203.19 L100.0,202.50 L100.5,201.80 L101.0,201.09 L101.5,200.39 L102.0,199.67 L102.5,198.96 L103.0,198.24 L103.5,197.52 L104.0,196.79 L104.5,196.06 L105.0,195.32 L105.5,194.58 L106.0,193.83 L106.5,193.07 L107.0,192.31 L107.5,191.54 L108.0,190.76 L108.5,189.97 L109.0,189.18 L109.5,188.39 L110.0,187.59 L110.5,186.80 L111.0,186.00 L111.5,185.21 L112.0,184.41 L112.5,183.61 L113.0,182.80 L113.5,181.98 L114.0,181.14 L114.5,180.29 L115.0,179.41 L115.5,178.50 L116.0,177.56 L116.5,176.60 L117.0,175.60 L117.5,174.57 L118.0,173.51 L118.5,172.42 L119.0,171.30 L119.5,170.15 L120.0,168.97 L120.5,167.76 L121.0,166.52 L121.5,165.27 L122.0,164.03 L122.5,162.82 L123.0,161.64 L123.5,160.53 L124.0,159.50 L124.5,158.54 L125.0,157.65 L125.5,156.81 L126.0,156.00 L126.5,155.21 L127.0,154.42 L127.5,153.61 L128.0,152.77 L128.5,151.89 L129.0,150.97 L129.5,150.03 L130.0,149.09 L130.5,148.18 L131.0,147.31 L131.5,146.50 L132.0,145.77 L132.5,145.12 L133.0,144.57 L133.5,144.11 L134.0,143.77 L134.5,143.53 L135.0,143.41 L135.5,143.41 L136.0,143.54 L136.5,143.78 L137.0,144.11 L137.5,144.53 L138.0,145.02 L138.5,145.56 L139.0,146.14 L139.5,146.74 L140.0,147.37 L140.5,148.02 L141.0,148.69 L141.5,149.39 L142.0,150.13 L142.5,150.91 L143.0,151.73 L143.5,152.60 L144.0,153.52 L144.5,154.48 L145.0,155.48 L145.5,156.51 L146.0,157.55 L146.5,158.62 L147.0,159.69 L147.5,160.75 L148.0,161.81 L148.5,162.85 L149.0,163.87 L149.5,164.85 L150.0,165.80 L150.5,166.69 L151.0,167.53 L151.5,168.31 L152.0,169.04 L152.5,169.74 L153.0,170.41 L153.5,171.06 L154.0,171.70 L154.5,172.34 L155.0,173.00 L155.5,173.67 L156.0,174.37 L156.5,175.08 L157.0,175.80 L157.5,176.54 L158.0,177.29 L158.5,178.04 L159.0,178.80 L159.5,179.56 L160.0,180.33 L160.5,181.09 L161.0,181.85 L161.5,182.60 L162.0,183.35 L162.5,184.08 L163.0,184.81 L163.5,185.52 L164.0,186.22 L164.5,186.91 L165.0,187.58 L165.5,188.24 L166.0,188.88 L166.5,189.50 L167.0,190.11 L167.5,190.69 L168.0,191.26 L168.5,191.81 L169.0,192.33 L169.5,192.83 L170.0,193.31 L170.5,193.77 L171.0,194.20 L171.5,194.60 L172.0,194.99 L172.5,195.34 L173.0,195.67 L173.5,195.99 L174.0,196.28 L174.5,196.55 L175.0,196.80 L175.5,197.03 L176.0,197.25 L176.5,197.45 L177.0,197.64 L177.5,197.81 L178.0,197.97 L178.5,198.12 L179.0,198.26 L179.5,198.38 L180.0,198.50 L180.5,198.61 L181.0,198.71 L181.5,198.81 L182.0,198.89 L182.5,198.97 L183.0,199.04 L183.5,199.10 L184.0,199.16 L184.5,199.20 L185.0,199.24 L185.5,199.27 L186.0,199.29 L186.5,199.30 L187.0,199.30 L187.5,199.30 L188.0,199.29 L188.5,199.26 L189.0,199.24 L189.5,199.20 L190.0,199.16 L190.5,199.11 L191.0,199.05 L191.5,198.99 L192.0,198.92 L192.5,198.85 L193.0,198.77 L193.5,198.68 L194.0,198.60 L194.5,198.51 L195.0,198.41 L195.5,198.31 L196.0,198.21 L196.5,198.11 L197.0,198.00 L197.5,197.89 L198.0,197.78 L198.5,197.67 L199.0,197.56 L199.5,197.44 L200.0,197.32 L200.5,197.20 L201.0,197.08 L201.5,196.96 L202.0,196.84 L202.5,196.71 L203.0,196.59 L203.5,196.46 L204.0,196.33 L204.5,196.20 L205.0,196.07 L205.5,195.93 L206.0,195.80 L206.5,195.67 L207.0,195.53 L207.5,195.40 L208.0,195.26 L208.5,195.12 L209.0,194.98 L209.5,194.84 L210.0,194.70 L210.5,194.56 L211.0,194.42 L211.5,194.28 L212.0,194.14 L212.5,194.00 L213.0,193.85 L213.5,193.71 L214.0,193.56 L214.5,193.41 L215.0,193.26 L215.5,193.11 L216.0,192.96 L216.5,192.81 L217.0,192.66 L217.5,192.50 L218.0,192.34 L218.5,192.18 L219.0,192.02 L219.5,191.86 L220.0,191.70 L220.5,191.53 L221.0,191.37 L221.5,191.20 L222.0,191.03 L222.5,190.85 L223.0,190.68 L223.5,190.50 L224.0,190.32 L224.5,190.14 L225.0,189.94 L225.5,189.74 L226.0,189.52 L226.5,189.29 L227.0,189.04 L227.5,188.77 L228.0,188.48 L228.5,188.15 L229.0,187.80 L229.5,187.42 L230.0,187.00 L230.5,186.55 L231.0,186.06 L231.5,185.54 L232.0,185.00 L232.5,184.43 L233.0,183.85 L233.5,183.26 L234.0,182.65 L234.5,182.05 L235.0,181.44 L235.5,180.83 L236.0,180.24 L236.5,179.65 L237.0,179.08 L237.5,178.53 L238.0,178.00 L238.5,177.50 L239.0,177.04 L239.5,176.60 L240.0,176.20 L240.5,175.83 L241.0,175.50 L241.5,175.21 L242.0,174.96 L242.5,174.74 L243.0,174.58 L243.5,174.45 L244.0,174.37 L244.5,174.34 L245.0,174.36 L245.5,174.41 L246.0,174.51 L246.5,174.65 L247.0,174.83 L247.5,175.05 L248.0,175.30 L248.5,175.59 L249.0,175.91 L249.5,176.26 L250.0,176.63 L250.5,177.03 L251.0,177.44 L251.5,177.86 L252.0,178.30 L252.5,178.74 L253.0,179.19 L253.5,179.64 L254.0,180.10 L254.5,180.56 L255.0,181.02 L255.5,181.48 L256.0,181.95 L256.5,182.41 L257.0,182.87 L257.5,183.33 L258.0,183.78 L258.5,184.23 L259.0,184.67 L259.5,185.11 L260.0,185.54 L260.5,185.97 L261.0,186.38 L261.5,186.78 L262.0,187.18 L262.5,187.56 L263.0,187.93 L263.5,188.29 L264.0,188.65 L264.5,189.00 L265.0,189.34 L265.5,189.67 L266.0,190.00 L266.5,190.33 L267.0,190.66 L267.5,190.98 L268.0,191.30 L268.5,191.63 L269.0,191.95 L269.5,192.28 L270.0,192.61 L270.5,192.95 L271.0,193.29 L271.5,193.64 L272.0,194.00 L272.5,194.37 L273.0,194.74 L273.5,195.12 L274.0,195.51 L274.5,195.90 L275.0,196.30 L275.5,196.71 L276.0,197.12 L276.5,197.53 L277.0,197.95 L277.5,198.37 L278.0,198.79 L278.5,199.22 L279.0,199.64 L279.5,200.07 L280.0,200.49 L280.5,200.92 L281.0,201.35 L281.5,201.77 L282.0,202.19 L282.5,202.61 L283.0,203.03 L283.5,203.44 L284.0,203.84 L284.5,204.25 L285.0,204.64 L285.5,205.03 L286.0,205.42 L286.5,205.79 L287.0,206.16 L287.5,206.52 L288.0,206.87 L288.5,207.22 L289.0,207.55 L289.5,207.87 L290.0,208.18 L290.5,208.48 L291.0,208.77 L291.5,209.04 L292.0,209.30 L292.5,209.55 L293.0,209.78 L293.5,210.00 L294.0,210.21 L294.5,210.40 L295.0,210.58 L295.5,210.75 L296.0,210.91 L296.5,211.05 L297.0,211.19 L297.5,211.31 L298.0,211.43 L298.5,211.53 L299.0,211.63 L299.5,211.72 L300.0,211.80 L300.5,211.87 L301.0,211.94 L301.5,212.00 L302.0,212.05 L302.5,212.09 L303.0,212.14 L303.5,212.17 L304.0,212.20 L304.5,212.23 L305.0,212.26 L305.5,212.28 L306.0,212.30 L306.5,212.32 L307.0,212.33 L307.5,212.35 L308.0,212.36 L308.5,212.37 L309.0,212.38 L309.5,212.39 L310.0,212.40 L310.5,212.41 L311.0,212.41 L311.5,212.41 L312.0,212.42 L312.5,212.42 L313.0,212.41 L313.5,212.41 L314.0,212.41 L314.5,212.41 L315.0,212.40 L315.5,212.39 L316.0,212.39 L316.5,212.38 L317.0,212.37 L317.5,212.36 L318.0,212.34 L318.5,212.33 L319.0,212.32 L319.5,212.30 L320.0,212.28 L320.5,212.26 L321.0,212.24 L321.5,212.22 L322.0,212.19 L322.5,212.16 L323.0,212.14 L323.5,212.10 L324.0,212.07 L324.5,212.04 L325.0,212.00 L325.5,211.96 L326.0,211.92 L326.5,211.88 L327.0,211.83 L327.5,211.78 L328.0,211.73 L328.5,211.68 L329.0,211.62 L329.5,211.56 L330.0,211.50 L330.5,211.43 L331.0,211.37 L331.5,211.30 L332.0,211.22 L332.5,211.15 L333.0,211.07 L333.5,210.99 L334.0,210.90 L334.5,210.81 L335.0,210.72 L335.5,210.62 L336.0,210.52 L336.5,210.42 L337.0,210.31" stroke="#12881a"/>
<path d="M43.0,216.30 L43.5,216.33 L44.0,216.36 L44.5,216.39 L45.0,216.42 L45.5,216.45 L46.0,216.48 L46.5,216.51 L47.0,216.54 L47.5,216.57 L48.0,216.60 L48.5,216.63 L49.0,216.66 L49.5,216.70 L50.0,216.73 L50.5,216.76 L51.0,216.79 L51.5,216.82 L52.0,216.85 L52.5,216.88 L53.0,216.91 L53.5,216.94 L54.0,216.97 L54.5,217.00 L55.0,217.03 L55.5,217.05 L56.0,217.08 L56.5,217.11 L57.0,217.14 L57.5,217.17 L58.0,217.19 L58.5,217.22 L59.0,217.25 L59.5,217.27 L60.0,217.30 L60.5,217.33 L61.0,217.35 L61.5,217.37 L62.0,217.40 L62.5,217.42 L63.0,217.45 L63.5,217.47 L64.0,217.49 L64.5,217.51 L65.0,217.53 L65.5,217.55 L66.0,217.57 L66.5,217.59 L67.0,217.61 L67.5,217.63 L68.0,217.64 L68.5,217.66 L69.0,217.68 L69.5,217.69 L70.0,217.71 L70.5,217.72 L71.0,217.73 L71.5,217.74 L72.0,217.75 L72.5,217.76 L73.0,217.77 L73.5,217.78 L74.0,217.79 L74.5,217.79 L75.0,217.80 L75.5,217.80 L76.0,217.81 L76.5,217.81 L77.0,217.80 L77.5,217.79 L78.0,217.77 L78.5,217.74 L79.0,217.70 L79.5,217.65 L80.0,217.59 L80.5,217.52 L81.0,217.43 L81.5,217.32 L82.0,217.20 L82.5,217.06 L83.0,216.90 L83.5,216.72 L84.0,216.53 L84.5,216.32 L85.0,216.09 L85.5,215.85 L86.0,215.60 L86.5,215.33 L87.0,215.04 L87.5,214.74 L88.0,214.41 L88.5,214.05 L89.0,213.67 L89.5,213.25 L90.0,212.80 L90.5,212.31 L91.0,211.78 L91.5,211.20 L92.0,210.58 L92.5,209.91 L93.0,209.18 L93.5,208.41 L94.0,207.58 L94.5,206.69 L95.0,205.73 L95.5,204.74 L96.0,203.71 L96.5,202.66 L97.0,201.62 L97.5,200.60 L98.0,199.61 L98.5,198.66 L99.0,197.74 L99.5,196.82 L100.0,195.90 L100.5,194.95 L101.0,193.95 L101.5,192.90 L102.0,191.77 L102.5,190.55 L103.0,189.26 L103.5,187.91 L104.0,186.50 L104.5,185.05 L105.0,183.57 L105.5,182.05 L106.0,180.53 L106.5,178.99 L107.0,177.44 L107.5,175.90 L108.0,174.38 L108.5,172.87 L109.0,171.39 L109.5,169.95 L110.0,168.55 L110.5,167.20 L111.0,165.89 L111.5,164.61 L112.0,163.35 L112.5,162.09 L113.0,160.80 L113.5,159.49 L114.0,158.13 L114.5,156.70 L115.0,155.19 L115.5,153.60 L116.0,151.93 L116.5,150.20 L117.0,148.43 L117.5,146.63 L118.0,144.81 L118.5,142.99 L119.0,141.18 L119.5,139.40 L120.0,137.66 L120.5,135.96 L121.0,134.29 L121.5,132.60 L122.0,130.89 L122.5,129.11 L123.0,127.24 L123.5,125.28 L124.0,123.26 L124.5,121.20 L125.0,119.14 L125.5,117.11 L126.0,115.14 L126.5,113.26 L127.0,111.48 L127.5,109.80 L128.0,108.21 L128.5,106.69 L129.0,105.25 L129.5,103.85 L130.0,102.44 L130.5,101.01 L131.0,99.53 L131.5,98.07 L132.0,96.71 L132.5,95.49 L133.0,94.45 L133.5,93.56 L134.0,92.80 L134.5,92.15 L135.0,91.63 L135.5,91.27 L136.0,91.11 L136.5,91.16 L137.0,91.43 L137.5,91.89 L138.0,92.51 L138.5,93.27 L139.0,94.17 L139.5,95.23 L140.0,96.46 L140.5,97.86 L141.0,99.38 L141.5,100.98 L142.0,102.61 L142.5,104.28 L143.0,106.04 L143.5,107.91 L144.0,109.88 L144.5,111.92 L145.0,114.00 L145.5,116.09 L146.0,118.17 L146.5,120.22 L147.0,122.22 L147.5,124.14 L148.0,125.96 L148.5,127.67 L149.0,129.25 L149.5,130.71 L150.0,132.07 L150.5,133.37 L151.0,134.62 L151.5,135.86 L152.0,137.10 L152.5,138.37 L153.0,139.67 L153.5,141.00 L154.0,142.34 L154.5,143.70 L155.0,145.07 L155.5,146.45 L156.0,147.83 L156.5,149.20 L157.0,150.57 L157.5,151.92 L158.0,153.26 L158.5,154.57 L159.0,155.85 L159.5,157.11 L160.0,158.33 L160.5,159.54 L161.0,160.71 L161.5,161.87 L162.0,163.02 L162.5,164.15 L163.0,165.27 L163.5,166.39 L164.0,167.50 L164.5,168.61 L165.0,169.71 L165.5,170.80 L166.0,171.88 L166.5,172.93 L167.0,173.95 L167.5,174.93 L168.0,175.88 L168.5,176.78 L169.0,177.62 L169.5,178.43 L170.0,179.18 L170.5,179.90 L171.0,180.59 L171.5,181.23 L172.0,181.85 L172.5,182.45 L173.0,183.02 L173.5,183.57 L174.0,184.11 L174.5,184.63 L175.0,185.14 L175.5,185.63 L176.0,186.11 L176.5,186.58 L177.0,187.02 L177.5,187.46 L178.0,187.87 L178.5,188.27 L179.0,188.65 L179.5,189.01 L180.0,189.35 L180.5,189.67 L181.0,189.97 L181.5,190.24 L182.0,190.50 L182.5,190.73 L183.0,190.95 L183.5,191.14 L184.0,191.31 L184.5,191.46 L185.0,191.59 L185.5,191.70 L186.0,191.79 L186.5,191.87 L187.0,191.93 L187.5,191.97 L188.0,192.00 L188.5,192.01 L189.0,192.01 L189.5,191.99 L190.0,191.96 L190.5,191.92 L191.0,191.87 L191.5,191.80 L192.0,191.72 L192.5,191.63 L193.0,191.53 L193.5,191.42 L194.0,191.30 L194.5,191.17 L195.0,191.03 L195.5,190.89 L196.0,190.73 L196.5,190.57 L197.0,190.40 L197.5,190.23 L198.0,190.05 L198.5,189.87 L199.0,189.67 L199.5,189.48 L200.0,189.28 L200.5,189.08 L201.0,188.87 L201.5,188.66 L202.0,188.45 L202.5,188.24 L203.0,188.02 L203.5,187.81 L204.0,187.59 L204.5,187.37 L205.0,187.16 L205.5,186.94 L206.0,186.73 L206.5,186.52 L207.0,186.31 L207.5,186.10 L208.0,185.90 L208.5,185.69 L209.0,185.49 L209.5,185.29 L210.0,185.09 L210.5,184.89 L211.0,184.68 L211.5,184.48 L212.0,184.27 L212.5,184.05 L213.0,183.83 L213.5,183.60 L214.0,183.37 L214.5,183.13 L215.0,182.88 L215.5,182.61 L216.0,182.34 L216.5,182.06 L217.0,181.77 L217.5,181.46 L218.0,181.14 L218.5,180.80 L219.0,180.45 L219.5,180.08 L220.0,179.69 L220.5,179.29 L221.0,178.87 L221.5,178.43 L222.0,177.97 L222.5,177.50 L223.0,177.00 L223.5,176.49 L224.0,175.96 L224.5,175.41 L225.0,174.83 L225.5,174.24 L226.0,173.63 L226.5,173.00 L227.0,172.35 L227.5,171.68 L228.0,170.99 L228.5,170.28 L229.0,169.56 L229.5,168.83 L230.0,168.08 L230.5,167.32 L231.0,166.55 L231.5,165.78 L232.0,165.00 L232.5,164.21 L233.0,163.42 L233.5,162.62 L234.0,161.80 L234.5,160.96 L235.0,160.11 L235.5,159.23 L236.0,158.33 L236.5,157.40 L237.0,156.45 L237.5,155.45 L238.0,154.42 L238.5,153.35 L239.0,152.26 L239.5,151.15 L240.0,150.05 L240.5,148.98 L241.0,147.96 L241.5,147.00 L242.0,146.13 L242.5,145.34 L243.0,144.66 L243.5,144.09 L244.0,143.64 L244.5,143.31 L245.0,143.12 L245.5,143.07 L246.0,143.16 L246.5,143.38 L247.0,143.73 L247.5,144.21 L248.0,144.80 L248.5,145.50 L249.0,146.30 L249.5,147.16 L250.0,148.08 L250.5,149.03 L251.0,149.98 L251.5,150.93 L252.0,151.88 L252.5,152.83 L253.0,153.76 L253.5,154.70 L254.0,155.62 L254.5,156.54 L255.0,157.45 L255.5,158.36 L256.0,159.26 L256.5,160.15 L257.0,161.03 L257.5,161.90 L258.0,162.76 L258.5,163.61 L259.0,164.45 L259.5,165.27 L260.0,166.08 L260.5,166.86 L261.0,167.63 L261.5,168.37 L262.0,169.09 L262.5,169.78 L263.0,170.45 L263.5,171.08 L264.0,171.69 L264.5,172.26 L265.0,172.80 L265.5,173.30 L266.0,173.77 L266.5,174.21 L267.0,174.64 L267.5,175.05 L268.0,175.47 L268.5,175.88 L269.0,176.31 L269.5,176.76 L270.0,177.23 L270.5,177.73 L271.0,178.27 L271.5,178.86 L272.0,179.50 L272.5,180.20 L273.0,180.95 L273.5,181.75 L274.0,182.58 L274.5,183.45 L275.0,184.34 L275.5,185.25 L276.0,186.16 L276.5,187.08 L277.0,187.99 L277.5,188.89 L278.0,189.77 L278.5,190.62 L279.0,191.43 L279.5,192.20 L280.0,192.93 L280.5,193.62 L281.0,194.28 L281.5,194.91 L282.0,195.52 L282.5,196.12 L283.0,196.70 L283.5,197.29 L284.0,197.87 L284.5,198.47 L285.0,199.08 L285.5,199.70 L286.0,200.35 L286.5,201.01 L287.0,201.67 L287.5,202.33 L288.0,202.99 L288.5,203.64 L289.0,204.27 L289.5,204.87 L290.0,205.45 L290.5,206.00 L291.0,206.50 L291.5,206.96 L292.0,207.38 L292.5,207.76 L293.0,208.11 L293.5,208.43 L294.0,208.72 L294.5,208.99 L295.0,209.24 L295.5,209.48 L296.0,209.71 L296.5,209.93 L297.0,210.15 L297.5,210.37 L298.0,210.59 L298.5,210.82 L299.0,211.06 L299.5,211.29 L300.0,211.53 L300.5,211.76 L301.0,211.98 L301.5,212.19 L302.0,212.39 L302.5,212.58 L303.0,212.75 L303.5,212.90 L304.0,213.03 L304.5,213.13 L305.0,213.20 L305.5,213.24 L306.0,213.26 L306.5,213.25 L307.0,213.22 L307.5,213.16 L308.0,213.09 L308.5,213.01 L309.0,212.91 L309.5,212.80 L310.0,212.68 L310.5,212.56 L311.0,212.44 L311.5,212.32 L312.0,212.20 L312.5,212.09 L313.0,211.98 L313.5,211.87 L314.0,211.77 L314.5,211.67 L315.0,211.57 L315.5,211.47 L316.0,211.36 L316.5,211.26 L317.0,211.15 L317.5,211.04 L318.0,210.93 L318.5,210.81 L319.0,210.68 L319.5,210.54 L320.0,210.40 L320.5,210.25 L321.0,210.09 L321.5,209.92 L322.0,209.74 L322.5,209.56 L323.0,209.38 L323.5,209.20 L324.0,209.01 L324.5,208.83 L325.0,208.65 L325.5,208.47 L326.0,208.29 L326.5,208.12 L327.0,207.96 L327.5,207.81 L328.0,207.66 L328.5,207.53 L329.0,207.40 L329.5,207.29 L330.0,207.20 L330.5,207.12 L331.0,207.06 L331.5,207.01 L332.0,206.99 L332.5,206.99 L333.0,207.00 L333.5,207.05 L334.0,207.11 L334.5,207.20 L335.0,207.32 L335.5,207.47 L336.0,207.65 L336.5,207.85 L337.0,208.09" stroke="#8b1616"/>
<path d="M43.0,221.00 L43.5,221.14 L44.0,221.28 L44.5,221.42 L45.0,221.56 L45.5,221.69 L46.0,221.82 L46.5,221.95 L47.0,222.08 L47.5,222.20 L48.0,222.33 L48.5,222.44 L49.0,222.56 L49.5,222.67 L50.0,222.78 L50.5,222.88 L51.0,222.99 L51.5,223.09 L52.0,223.18 L52.5,223.27 L53.0,223.36 L53.5,223.45 L54.0,223.53 L54.5,223.60 L55.0,223.67 L55.5,223.74 L56.0,223.81 L56.5,223.87 L57.0,223.92 L57.5,223.97 L58.0,224.02 L58.5,224.06 L59.0,224.09 L59.5,224.13 L60.0,224.15 L60.5,224.17 L61.0,224.19 L61.5,224.20 L62.0,224.21 L62.5,224.21 L63.0,224.20 L63.5,224.19 L64.0,224.17 L64.5,224.15 L65.0,224.13 L65.5,224.10 L66.0,224.06 L66.5,224.02 L67.0,223.98 L67.5,223.93 L68.0,223.88 L68.5,223.82 L69.0,223.76 L69.5,223.70 L70.0,223.64 L70.5,223.57 L71.0,223.50 L71.5,223.43 L72.0,223.36 L72.5,223.29 L73.0,223.22 L73.5,223.14 L74.0,223.06 L74.5,222.98 L75.0,222.90 L75.5,222.82 L76.0,222.73 L76.5,222.64 L77.0,222.55 L77.5,222.45 L78.0,222.35 L78.5,222.24 L79.0,222.12 L79.5,222.00 L80.0,221.87 L80.5,221.73 L81.0,221.57 L81.5,221.39 L82.0,221.18 L82.5,220.94 L83.0,220.67 L83.5,220.35 L84.0,219.98 L84.5,219.56 L85.0,219.09 L85.5,218.59 L86.0,218.06 L86.5,217.51 L87.0,216.95 L87.5,216.37 L88.0,215.75 L88.5,215.07 L89.0,214.32 L89.5,213.49 L90.0,212.56 L90.5,211.54 L91.0,210.44 L91.5,209.26 L92.0,208.02 L92.5,206.75 L93.0,205.49 L93.5,204.28 L94.0,203.10 L94.5,201.95 L95.0,200.78 L95.5,199.57 L96.0,198.31 L96.5,197.02 L97.0,195.71 L97.5,194.38 L98.0,193.06 L98.5,191.74 L99.0,190.43 L99.5,189.13 L100.0,187.83 L100.5,186.52 L101.0,185.19 L101.5,183.83 L102.0,182.43 L102.5,180.99 L103.0,179.49 L103.5,177.92 L104.0,176.28 L104.5,174.56 L105.0,172.75 L105.5,170.88 L106.0,168.94 L106.5,166.96 L107.0,164.93 L107.5,162.87 L108.0,160.79 L108.5,158.70 L109.0,156.60 L109.5,154.52 L110.0,152.45 L110.5,150.40 L111.0,148.40 L111.5,146.41 L112.0,144.44 L112.5,142.46 L113.0,140.46 L113.5,138.41 L114.0,136.31 L114.5,134.13 L115.0,131.86 L115.5,129.48 L116.0,126.98 L116.5,124.36 L117.0,121.64 L117.5,118.83 L118.0,115.97 L118.5,113.08 L119.0,110.18 L119.5,107.29 L120.0,104.43 L120.5,101.64 L121.0,98.93 L121.5,96.30 L122.0,93.76 L122.5,91.28 L123.0,88.86 L123.5,86.48 L124.0,84.13 L124.5,81.80 L125.0,79.49 L125.5,77.18 L126.0,74.89 L126.5,72.60 L127.0,70.33 L127.5,68.06 L128.0,65.80 L128.5,63.55 L129.0,61.31 L129.5,59.12 L130.0,57.02 L130.5,55.03 L131.0,53.20 L131.5,51.55 L132.0,50.06 L132.5,48.71 L133.0,47.47 L133.5,46.32 L134.0,45.29 L134.5,44.42 L135.0,43.76 L135.5,43.38 L136.0,43.32 L136.5,43.59 L137.0,44.15 L137.5,44.93 L138.0,45.90 L138.5,47.00 L139.0,48.19 L139.5,49.48 L140.0,50.91 L140.5,52.51 L141.0,54.30 L141.5,56.26 L142.0,58.35 L142.5,60.51 L143.0,62.70 L143.5,64.86 L144.0,66.97 L144.5,69.04 L145.0,71.06 L145.5,73.06 L146.0,75.03 L146.5,76.98 L147.0,78.93 L147.5,80.87 L148.0,82.81 L148.5,84.76 L149.0,86.74 L149.5,88.73 L150.0,90.74 L150.5,92.78 L151.0,94.86 L151.5,96.97 L152.0,99.13 L152.5,101.32 L153.0,103.56 L153.5,105.83 L154.0,108.13 L154.5,110.43 L155.0,112.74 L155.5,115.04 L156.0,117.33 L156.5,119.59 L157.0,121.82 L157.5,124.00 L158.0,126.13 L158.5,128.20 L159.0,130.19 L159.5,132.11 L160.0,133.94 L160.5,135.68 L161.0,137.33 L161.5,138.90 L162.0,140.39 L162.5,141.83 L163.0,143.21 L163.5,144.57 L164.0,145.90 L164.5,147.22 L165.0,148.52 L165.5,149.81 L166.0,151.08 L166.5,152.34 L167.0,153.57 L167.5,154.78 L168.0,155.97 L168.5,157.13 L169.0,158.26 L169.5,159.37 L170.0,160.44 L170.5,161.49 L171.0,162.51 L171.5,163.49 L172.0,164.45 L172.5,165.38 L173.0,166.27 L173.5,167.13 L174.0,167.96 L174.5,168.76 L175.0,169.53 L175.5,170.27 L176.0,170.98 L176.5,171.67 L177.0,172.34 L177.5,172.99 L178.0,173.62 L178.5,174.24 L179.0,174.84 L179.5,175.44 L180.0,176.02 L180.5,176.60 L181.0,177.17 L181.5,177.74 L182.0,178.29 L182.5,178.81 L183.0,179.31 L183.5,179.78 L184.0,180.21 L184.5,180.60 L185.0,180.94 L185.5,181.23 L186.0,181.48 L186.5,181.68 L187.0,181.85 L187.5,181.97 L188.0,182.05 L188.5,182.10 L189.0,182.11 L189.5,182.10 L190.0,182.05 L190.5,181.98 L191.0,181.89 L191.5,181.79 L192.0,181.67 L192.5,181.54 L193.0,181.40 L193.5,181.26 L194.0,181.12 L194.5,180.97 L195.0,180.82 L195.5,180.67 L196.0,180.51 L196.5,180.35 L197.0,180.19 L197.5,180.02 L198.0,179.85 L198.5,179.68 L199.0,179.50 L199.5,179.32 L200.0,179.13 L200.5,178.95 L201.0,178.75 L201.5,178.56 L202.0,178.36 L202.5,178.16 L203.0,177.95 L203.5,177.74 L204.0,177.52 L204.5,177.30 L205.0,177.08 L205.5,176.85 L206.0,176.62 L206.5,176.38 L207.0,176.14 L207.5,175.90 L208.0,175.65 L208.5,175.40 L209.0,175.14 L209.5,174.87 L210.0,174.59 L210.5,174.31 L211.0,174.02 L211.5,173.71 L212.0,173.40 L212.5,173.07 L213.0,172.73 L213.5,172.38 L214.0,172.01 L214.5,171.63 L215.0,171.23 L215.5,170.81 L216.0,170.37 L216.5,169.92 L217.0,169.44 L217.5,168.95 L218.0,168.43 L218.5,167.89 L219.0,167.33 L219.5,166.75 L220.0,166.13 L220.5,165.50 L221.0,164.83 L221.5,164.14 L222.0,163.41 L222.5,162.66 L223.0,161.87 L223.5,161.06 L224.0,160.21 L224.5,159.32 L225.0,158.40 L225.5,157.44 L226.0,156.44 L226.5,155.40 L227.0,154.32 L227.5,153.21 L228.0,152.06 L228.5,150.89 L229.0,149.69 L229.5,148.48 L230.0,147.24 L230.5,146.00 L231.0,144.75 L231.5,143.49 L232.0,142.23 L232.5,140.97 L233.0,139.71 L233.5,138.45 L234.0,137.20 L234.5,135.96 L235.0,134.72 L235.5,133.50 L236.0,132.28 L236.5,131.09 L237.0,129.90 L237.5,128.73 L238.0,127.58 L238.5,126.45 L239.0,125.34 L239.5,124.27 L240.0,123.22 L240.5,122.20 L241.0,121.22 L241.5,120.29 L242.0,119.42 L242.5,118.62 L243.0,117.90 L243.5,117.28 L244.0,116.77 L244.5,116.38 L245.0,116.11 L245.5,115.99 L246.0,116.01 L246.5,116.17 L247.0,116.45 L247.5,116.85 L248.0,117.36 L248.5,117.96 L249.0,118.65 L249.5,119.41 L250.0,120.24 L250.5,121.11 L251.0,122.03 L251.5,122.98 L252.0,123.96 L252.5,124.95 L253.0,125.97 L253.5,126.99 L254.0,128.03 L254.5,129.07 L255.0,130.11 L255.5,131.15 L256.0,132.20 L256.5,133.25 L257.0,134.32 L257.5,135.41 L258.0,136.52 L258.5,137.66 L259.0,138.82 L259.5,139.99 L260.0,141.16 L260.5,142.32 L261.0,143.46 L261.5,144.55 L262.0,145.60 L262.5,146.58 L263.0,147.50 L263.5,148.38 L264.0,149.22 L264.5,150.03 L265.0,150.84 L265.5,151.65 L266.0,152.46 L266.5,153.27 L267.0,154.08 L267.5,154.89 L268.0,155.70 L268.5,156.50 L269.0,157.30 L269.5,158.09 L270.0,158.91 L270.5,159.74 L271.0,160.61 L271.5,161.52 L272.0,162.49 L272.5,163.50 L273.0,164.55 L273.5,165.62 L274.0,166.69 L274.5,167.76 L275.0,168.80 L275.5,169.81 L276.0,170.76 L276.5,171.66 L277.0,172.52 L277.5,173.35 L278.0,174.15 L278.5,174.94 L279.0,175.72 L279.5,176.51 L280.0,177.30 L280.5,178.11 L281.0,178.93 L281.5,179.76 L282.0,180.60 L282.5,181.45 L283.0,182.29 L283.5,183.12 L284.0,183.95 L284.5,184.76 L285.0,185.56 L285.5,186.34 L286.0,187.10 L286.5,187.84 L287.0,188.57 L287.5,189.28 L288.0,189.96 L288.5,190.63 L289.0,191.28 L289.5,191.90 L290.0,192.50 L290.5,193.09 L291.0,193.67 L291.5,194.24 L292.0,194.82 L292.5,195.40 L293.0,195.99 L293.5,196.60 L294.0,197.24 L294.5,197.91 L295.0,198.61 L295.5,199.35 L296.0,200.14 L296.5,200.96 L297.0,201.79 L297.5,202.64 L298.0,203.48 L298.5,204.30 L299.0,205.10 L299.5,205.86 L300.0,206.56 L300.5,207.20 L301.0,207.77 L301.5,208.26 L302.0,208.70 L302.5,209.09 L303.0,209.42 L303.5,209.73 L304.0,210.00 L304.5,210.25 L305.0,210.48 L305.5,210.68 L306.0,210.86 L306.5,211.01 L307.0,211.13 L307.5,211.22 L308.0,211.28 L308.5,211.31 L309.0,211.31 L309.5,211.28 L310.0,211.23 L310.5,211.15 L311.0,211.05 L311.5,210.94 L312.0,210.81 L312.5,210.68 L313.0,210.53 L313.5,210.38 L314.0,210.23 L314.5,210.08 L315.0,209.94 L315.5,209.80 L316.0,209.67 L316.5,209.55 L317.0,209.44 L317.5,209.33 L318.0,209.22 L318.5,209.12 L319.0,209.01 L319.5,208.90 L320.0,208.78 L320.5,208.66 L321.0,208.53 L321.5,208.39 L322.0,208.23 L322.5,208.06 L323.0,207.88 L323.5,207.68 L324.0,207.45 L324.5,207.22 L325.0,206.98 L325.5,206.73 L326.0,206.48 L326.5,206.23 L327.0,205.98 L327.5,205.75 L328.0,205.53 L328.5,205.32 L329.0,205.13 L329.5,204.96 L330.0,204.82 L330.5,204.69 L331.0,204.57 L331.5,204.48 L332.0,204.41 L332.5,204.36 L333.0,204.33 L333.5,204.32 L334.0,204.33 L334.5,204.35 L335.0,204.40 L335.5,204.47 L336.0,204.56 L336.5,204.68 L337.0,204.81" stroke="#1c1c8e"/>
</g>
<g stroke="#333" stroke-width="1.1" fill="none">
<line x1="43.3" y1="16.2" x2="43.3" y2="233.1"/>
<line x1="42.5" y1="232.6" x2="337.5" y2="232.6"/>
<line x1="40.8" y1="232.18" x2="43.0" y2="232.18"/><line x1="39.0" y1="212.60" x2="43.0" y2="212.60"/><line x1="40.8" y1="193.02" x2="43.0" y2="193.02"/><line x1="39.0" y1="173.44" x2="43.0" y2="173.44"/><line x1="40.8" y1="153.86" x2="43.0" y2="153.86"/><line x1="39.0" y1="134.28" x2="43.0" y2="134.28"/><line x1="40.8" y1="114.70" x2="43.0" y2="114.70"/><line x1="39.0" y1="95.12" x2="43.0" y2="95.12"/><line x1="40.8" y1="75.54" x2="43.0" y2="75.54"/><line x1="39.0" y1="55.96" x2="43.0" y2="55.96"/><line x1="40.8" y1="36.38" x2="43.0" y2="36.38"/><line x1="39.0" y1="16.80" x2="43.0" y2="16.80"/><line x1="43.0" y1="232.6" x2="43.0" y2="236.6"/><line x1="67.5" y1="232.6" x2="67.5" y2="234.8"/><line x1="92.0" y1="232.6" x2="92.0" y2="236.6"/><line x1="116.5" y1="232.6" x2="116.5" y2="234.8"/><line x1="141.0" y1="232.6" x2="141.0" y2="236.6"/><line x1="165.5" y1="232.6" x2="165.5" y2="234.8"/><line x1="190.0" y1="232.6" x2="190.0" y2="236.6"/><line x1="214.5" y1="232.6" x2="214.5" y2="234.8"/><line x1="239.0" y1="232.6" x2="239.0" y2="236.6"/><line x1="263.5" y1="232.6" x2="263.5" y2="234.8"/><line x1="288.0" y1="232.6" x2="288.0" y2="236.6"/><line x1="312.5" y1="232.6" x2="312.5" y2="234.8"/><line x1="337.0" y1="232.6" x2="337.0" y2="236.6"/>
</g>
<g font-size="10.8">
<text x="35.5" y="216.1" text-anchor="end">0.0</text><text x="35.5" y="176.9" text-anchor="end">0.2</text><text x="35.5" y="137.8" text-anchor="end">0.4</text><text x="35.5" y="98.6" text-anchor="end">0.6</text><text x="35.5" y="59.5" text-anchor="end">0.8</text><text x="35.5" y="20.3" text-anchor="end">1.0</text></g>
<g font-size="11">
<text x="41.8" y="252.6" text-anchor="middle">1750</text><text x="90.8" y="252.6" text-anchor="middle">1700</text><text x="139.8" y="252.6" text-anchor="middle">1650</text><text x="188.8" y="252.6" text-anchor="middle">1600</text><text x="237.8" y="252.6" text-anchor="middle">1550</text><text x="286.8" y="252.6" text-anchor="middle">1500</text><text x="335.8" y="252.6" text-anchor="middle">1450</text>
</g>
<g font-size="10.7" class="hv2">
<line x1="244.8" y1="27.50" x2="270.5" y2="27.50" stroke="#1c1c8e" stroke-width="1.4"/><text x="273" y="31.40">1 mg/ml BSA</text><line x1="244.8" y1="40.58" x2="270.5" y2="40.58" stroke="#8b1616" stroke-width="1.4"/><text x="273" y="44.48">0.5</text><line x1="244.8" y1="53.66" x2="270.5" y2="53.66" stroke="#12881a" stroke-width="1.4"/><text x="273" y="57.56">0.25</text><line x1="244.8" y1="66.74" x2="270.5" y2="66.74" stroke="#f51a1a" stroke-width="1.4"/><text x="273" y="70.64">0.125</text><line x1="244.8" y1="79.82" x2="270.5" y2="79.82" stroke="#8b4a22" stroke-width="1.4"/><text x="273" y="83.72">0.0625</text><line x1="244.8" y1="92.90" x2="270.5" y2="92.90" stroke="#d83030" stroke-width="1.4"/><text x="273" y="96.80">0.03125</text><line x1="244.8" y1="105.98" x2="270.5" y2="105.98" stroke="#1f6e6e" stroke-width="1.4"/><text x="273" y="109.88">0.015625</text>
</g>
<text class="hv" transform="translate(10.8,194.2) rotate(-90)" font-size="13.5">Absorbance / arb. units</text>
<text class="hv" x="141" y="272.7" font-size="13.8">Wavenumber / cm<tspan font-size="12.8" dy="-5.6">-1</tspan></text>

<!-- panel b -->
<text x="371.3" y="14.3" font-size="18.7" font-weight="bold" fill="#000">b</text>
<g stroke="#333" stroke-width="1.1" fill="none">
<line x1="406.4" y1="8.8" x2="406.4" y2="233.1"/>
<line x1="405.9" y1="232.6" x2="683.5" y2="232.6"/>
<line x1="402.4" y1="232.60" x2="406.4" y2="232.60"/><line x1="404.2" y1="216.65" x2="406.4" y2="216.65"/><line x1="402.4" y1="200.70" x2="406.4" y2="200.70"/><line x1="404.2" y1="184.75" x2="406.4" y2="184.75"/><line x1="402.4" y1="168.80" x2="406.4" y2="168.80"/><line x1="404.2" y1="152.85" x2="406.4" y2="152.85"/><line x1="402.4" y1="136.90" x2="406.4" y2="136.90"/><line x1="404.2" y1="120.95" x2="406.4" y2="120.95"/><line x1="402.4" y1="105.00" x2="406.4" y2="105.00"/><line x1="404.2" y1="89.05" x2="406.4" y2="89.05"/><line x1="402.4" y1="73.10" x2="406.4" y2="73.10"/><line x1="404.2" y1="57.15" x2="406.4" y2="57.15"/><line x1="402.4" y1="41.20" x2="406.4" y2="41.20"/><line x1="404.2" y1="25.25" x2="406.4" y2="25.25"/><line x1="402.4" y1="9.30" x2="406.4" y2="9.30"/><line x1="406.4" y1="232.6" x2="406.4" y2="236.6"/><line x1="432.8" y1="232.6" x2="432.8" y2="234.8"/><line x1="459.3" y1="232.6" x2="459.3" y2="236.6"/><line x1="485.8" y1="232.6" x2="485.8" y2="234.8"/><line x1="512.2" y1="232.6" x2="512.2" y2="236.6"/><line x1="538.6" y1="232.6" x2="538.6" y2="234.8"/><line x1="565.1" y1="232.6" x2="565.1" y2="236.6"/><line x1="591.5" y1="232.6" x2="591.5" y2="234.8"/><line x1="618.0" y1="232.6" x2="618.0" y2="236.6"/><line x1="644.5" y1="232.6" x2="644.5" y2="234.8"/><line x1="670.9" y1="232.6" x2="670.9" y2="236.6"/>
</g>
<g font-size="10">
<text x="399.2" y="235.5" text-anchor="end">0</text><text x="399.2" y="203.6" text-anchor="end">5</text><text x="399.2" y="171.7" text-anchor="end">10</text><text x="399.2" y="139.8" text-anchor="end">15</text><text x="399.2" y="107.9" text-anchor="end">20</text><text x="399.2" y="76.0" text-anchor="end">25</text><text x="399.2" y="44.1" text-anchor="end">30</text><text x="399.2" y="12.2" text-anchor="end">35</text>
<text x="406.4" y="251.6" text-anchor="middle">0.0</text><text x="459.3" y="251.6" text-anchor="middle">0.2</text><text x="512.2" y="251.6" text-anchor="middle">0.4</text><text x="565.1" y="251.6" text-anchor="middle">0.6</text><text x="618.0" y="251.6" text-anchor="middle">0.8</text><text x="670.9" y="251.6" text-anchor="middle">1.0</text>
</g>
<text class="hv2" transform="translate(378.8,178) rotate(-90)" font-size="11.5">Amide I integral (AUC)</text>
<text class="hv2" x="467.8" y="270.8" font-size="11.65">Protein concentration / mg/mL</text>
<!-- table -->
<g>
<rect x="497.5" y="161.5" width="177.4" height="59.8" fill="#fff" stroke="#999" stroke-width="1"/>
<g stroke="#d4d4d4" stroke-width="1">
<line x1="498" y1="174.5" x2="674.4" y2="174.5"/>
<line x1="498" y1="187.5" x2="674.4" y2="187.5"/>
<line x1="498" y1="209.5" x2="674.4" y2="209.5"/>
<line x1="594.5" y1="162" x2="594.5" y2="220.8"/>
</g>
<g font-size="8">
<text transform="matrix(1,0,0,1.1,500.5,170.9)">Equation</text>
<text transform="matrix(1,0,0,1.1,500.5,183.7)">Intercept</text>
<text transform="matrix(1,0,0,1.1,500.5,200.9)">Slope</text>
<text transform="matrix(1,0,0,1.1,500.5,217.5)">Adj. R-Square</text>
<text transform="matrix(1,0,0,1.1,635,168.7)" text-anchor="middle">y = a + b*x</text>
<text transform="matrix(1,0,0,1.1,635,182.0)" text-anchor="middle">3.2 ± 0.19</text>
<text transform="matrix(1,0,0,1.1,635,194.9)" text-anchor="middle">27.2 ± 0.594</text>
<text transform="matrix(1,0,0,1.1,635,215.9)" text-anchor="middle">0.998</text>
</g>
</g>
<g stroke="#555" stroke-width="1">
<line x1="414.67" y1="203.8" x2="414.67" y2="221.2"/><line x1="412.27" y1="203.8" x2="417.07" y2="203.8"/><line x1="412.27" y1="221.2" x2="417.07" y2="221.2"/><line x1="422.93" y1="197.8" x2="422.93" y2="203.8"/><line x1="420.53" y1="197.8" x2="425.33" y2="197.8"/><line x1="420.53" y1="203.8" x2="425.33" y2="203.8"/><line x1="439.46" y1="181" x2="439.46" y2="199.1"/><line x1="437.06" y1="181" x2="441.86" y2="181"/><line x1="437.06" y1="199.1" x2="441.86" y2="199.1"/><line x1="472.52" y1="156" x2="472.52" y2="178.2"/><line x1="470.12" y1="156" x2="474.92" y2="156"/><line x1="470.12" y1="178.2" x2="474.92" y2="178.2"/><line x1="538.65" y1="108.5" x2="538.65" y2="133.2"/><line x1="536.25" y1="108.5" x2="541.05" y2="108.5"/><line x1="536.25" y1="133.2" x2="541.05" y2="133.2"/><line x1="670.90" y1="32.1" x2="670.90" y2="48.9"/><line x1="668.50" y1="32.1" x2="673.30" y2="32.1"/><line x1="668.50" y1="48.9" x2="673.30" y2="48.9"/>
</g>
<g fill="#000">
<circle cx="414.67" cy="212.8" r="2.6"/><circle cx="422.93" cy="201.1" r="2.6"/><circle cx="439.46" cy="190" r="2.6"/><circle cx="472.52" cy="166.9" r="2.6"/><circle cx="538.65" cy="121" r="2.6"/><circle cx="670.90" cy="40.3" r="2.6"/>
</g>
<line x1="414.67" y1="207.10" x2="670.90" y2="39.14" stroke="#f00" stroke-width="2"/>
</svg>
</body></html>
